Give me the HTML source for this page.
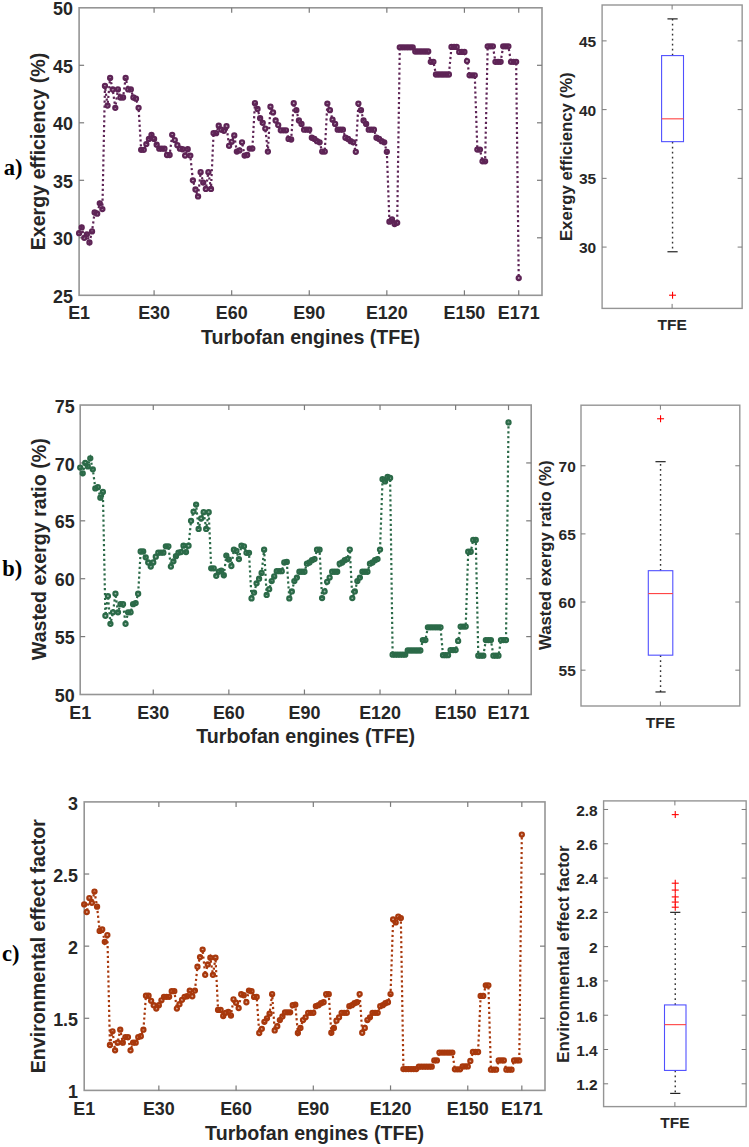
<!DOCTYPE html>
<html><head><meta charset="utf-8"><style>
html,body{margin:0;padding:0;background:#fff;}
body{width:749px;height:1147px;overflow:hidden;}
svg{display:block;}
</style></head><body>
<svg width="749" height="1147" viewBox="0 0 749 1147">
<rect width="749" height="1147" fill="#fff"/>
<rect x="79.10" y="7.80" width="462.90" height="287.50" fill="none" stroke="#959595" stroke-width="1.6"/>
<text x="79.10" y="319.20" font-family='"Liberation Sans", sans-serif' font-size="17.9" font-weight="bold" text-anchor="middle" fill="#262626" >E1</text>
<line x1="154.09" y1="295.30" x2="154.09" y2="290.30" stroke="#7a7a7a" stroke-width="1.2" />
<line x1="154.09" y1="7.80" x2="154.09" y2="12.80" stroke="#7a7a7a" stroke-width="1.2" />
<text x="154.09" y="319.20" font-family='"Liberation Sans", sans-serif' font-size="17.9" font-weight="bold" text-anchor="middle" fill="#262626" >E30</text>
<line x1="231.68" y1="295.30" x2="231.68" y2="290.30" stroke="#7a7a7a" stroke-width="1.2" />
<line x1="231.68" y1="7.80" x2="231.68" y2="12.80" stroke="#7a7a7a" stroke-width="1.2" />
<text x="231.68" y="319.20" font-family='"Liberation Sans", sans-serif' font-size="17.9" font-weight="bold" text-anchor="middle" fill="#262626" >E60</text>
<line x1="309.26" y1="295.30" x2="309.26" y2="290.30" stroke="#7a7a7a" stroke-width="1.2" />
<line x1="309.26" y1="7.80" x2="309.26" y2="12.80" stroke="#7a7a7a" stroke-width="1.2" />
<text x="309.26" y="319.20" font-family='"Liberation Sans", sans-serif' font-size="17.9" font-weight="bold" text-anchor="middle" fill="#262626" >E90</text>
<line x1="386.84" y1="295.30" x2="386.84" y2="290.30" stroke="#7a7a7a" stroke-width="1.2" />
<line x1="386.84" y1="7.80" x2="386.84" y2="12.80" stroke="#7a7a7a" stroke-width="1.2" />
<text x="386.84" y="319.20" font-family='"Liberation Sans", sans-serif' font-size="17.9" font-weight="bold" text-anchor="middle" fill="#262626" >E120</text>
<line x1="464.42" y1="295.30" x2="464.42" y2="290.30" stroke="#7a7a7a" stroke-width="1.2" />
<line x1="464.42" y1="7.80" x2="464.42" y2="12.80" stroke="#7a7a7a" stroke-width="1.2" />
<text x="464.42" y="319.20" font-family='"Liberation Sans", sans-serif' font-size="17.9" font-weight="bold" text-anchor="middle" fill="#262626" >E150</text>
<line x1="518.73" y1="295.30" x2="518.73" y2="290.30" stroke="#7a7a7a" stroke-width="1.2" />
<line x1="518.73" y1="7.80" x2="518.73" y2="12.80" stroke="#7a7a7a" stroke-width="1.2" />
<text x="518.73" y="319.20" font-family='"Liberation Sans", sans-serif' font-size="17.9" font-weight="bold" text-anchor="middle" fill="#262626" >E171</text>
<text x="72.90" y="302.70" font-family='"Liberation Sans", sans-serif' font-size="17.9" font-weight="bold" text-anchor="end" fill="#262626" >25</text>
<line x1="79.10" y1="237.80" x2="84.10" y2="237.80" stroke="#7a7a7a" stroke-width="1.2" />
<line x1="542.00" y1="237.80" x2="537.00" y2="237.80" stroke="#7a7a7a" stroke-width="1.2" />
<text x="72.90" y="245.20" font-family='"Liberation Sans", sans-serif' font-size="17.9" font-weight="bold" text-anchor="end" fill="#262626" >30</text>
<line x1="79.10" y1="180.30" x2="84.10" y2="180.30" stroke="#7a7a7a" stroke-width="1.2" />
<line x1="542.00" y1="180.30" x2="537.00" y2="180.30" stroke="#7a7a7a" stroke-width="1.2" />
<text x="72.90" y="187.70" font-family='"Liberation Sans", sans-serif' font-size="17.9" font-weight="bold" text-anchor="end" fill="#262626" >35</text>
<line x1="79.10" y1="122.80" x2="84.10" y2="122.80" stroke="#7a7a7a" stroke-width="1.2" />
<line x1="542.00" y1="122.80" x2="537.00" y2="122.80" stroke="#7a7a7a" stroke-width="1.2" />
<text x="72.90" y="130.20" font-family='"Liberation Sans", sans-serif' font-size="17.9" font-weight="bold" text-anchor="end" fill="#262626" >40</text>
<line x1="79.10" y1="65.30" x2="84.10" y2="65.30" stroke="#7a7a7a" stroke-width="1.2" />
<line x1="542.00" y1="65.30" x2="537.00" y2="65.30" stroke="#7a7a7a" stroke-width="1.2" />
<text x="72.90" y="72.70" font-family='"Liberation Sans", sans-serif' font-size="17.9" font-weight="bold" text-anchor="end" fill="#262626" >45</text>
<text x="72.90" y="15.20" font-family='"Liberation Sans", sans-serif' font-size="17.9" font-weight="bold" text-anchor="end" fill="#262626" >50</text>
<polyline points="79.10,233.20 81.69,227.45 84.27,237.80 86.86,234.35 89.44,242.40 92.03,231.47 94.62,212.50 97.20,213.65 99.79,203.30 102.37,209.05 104.96,86.00 107.55,105.55 110.13,77.95 112.72,89.45 115.30,107.85 117.89,89.45 120.48,97.50 123.06,97.50 125.65,77.95 128.23,89.45 130.82,89.45 133.41,97.50 135.99,98.65 138.58,107.85 141.16,149.83 143.75,149.83 146.34,144.08 148.92,138.90 151.51,134.87 154.09,138.90 156.68,144.65 159.27,148.68 161.85,148.68 164.44,148.68 167.03,155.00 169.61,155.00 172.20,134.87 174.78,140.05 177.37,145.23 179.96,148.68 182.54,149.25 185.13,155.58 187.71,149.25 190.30,155.58 192.89,180.30 195.47,189.50 198.06,196.40 200.64,172.25 203.23,182.60 205.82,188.93 208.40,172.25 210.99,188.93 213.57,133.15 216.16,133.15 218.75,125.68 221.33,129.70 223.92,130.85 226.50,126.25 229.09,145.80 231.68,141.78 234.26,135.45 236.85,151.55 239.43,150.40 242.02,142.35 244.61,155.58 247.19,155.00 249.78,148.56 252.36,148.56 254.95,103.25 257.54,109.00 260.12,118.20 262.71,122.80 265.29,128.55 267.88,151.55 270.47,106.70 273.05,112.45 275.64,120.50 278.22,125.10 280.81,130.28 283.40,130.28 285.98,130.28 288.57,138.90 291.15,139.48 293.74,103.25 296.33,110.15 298.91,120.50 301.50,123.95 304.08,129.70 306.67,129.70 309.26,129.70 311.84,137.75 314.43,138.90 317.02,141.20 319.60,142.35 322.19,151.55 324.77,151.55 327.36,103.59 329.95,110.15 332.53,119.69 335.12,123.95 337.70,129.70 340.29,129.70 342.88,129.70 345.46,137.75 348.05,138.90 350.63,141.20 353.22,142.35 355.81,151.78 358.39,103.59 360.98,110.15 363.56,120.50 366.15,123.95 368.74,129.70 371.32,129.70 373.91,129.70 376.49,137.75 379.08,138.90 381.67,141.20 384.25,142.35 386.84,151.78 389.42,221.70 392.01,219.40 394.60,224.00 397.18,222.85 399.77,47.36 402.35,47.36 404.94,47.36 407.53,47.36 410.11,47.36 412.70,47.36 415.28,51.50 417.87,51.50 420.46,51.50 423.04,51.50 425.63,51.50 428.21,51.50 430.80,61.85 433.39,61.85 435.97,74.50 438.56,74.50 441.14,74.50 443.73,74.50 446.32,74.50 448.90,74.50 451.49,46.90 454.07,46.90 456.66,46.90 459.25,51.96 461.83,51.96 464.42,51.96 467.01,61.05 469.59,75.30 472.18,75.30 474.76,75.30 477.35,149.59 479.94,149.59 482.52,161.33 485.11,161.33 487.69,46.33 490.28,46.33 492.87,46.33 495.45,61.85 498.04,61.85 500.62,61.85 503.21,46.33 505.80,46.33 508.38,46.33 510.97,61.85 513.55,61.85 516.14,61.85 518.73,278.05" fill="none" stroke="#5e2456" stroke-width="2.2" stroke-dasharray="2.2 2.7"/>
<circle cx="79.10" cy="233.20" r="2.05" fill="#5e2456" fill-opacity="0.45" stroke="#5e2456" stroke-width="2.2"/>
<circle cx="81.69" cy="227.45" r="2.05" fill="#5e2456" fill-opacity="0.45" stroke="#5e2456" stroke-width="2.2"/>
<circle cx="84.27" cy="237.80" r="2.05" fill="#5e2456" fill-opacity="0.45" stroke="#5e2456" stroke-width="2.2"/>
<circle cx="86.86" cy="234.35" r="2.05" fill="#5e2456" fill-opacity="0.45" stroke="#5e2456" stroke-width="2.2"/>
<circle cx="89.44" cy="242.40" r="2.05" fill="#5e2456" fill-opacity="0.45" stroke="#5e2456" stroke-width="2.2"/>
<circle cx="92.03" cy="231.47" r="2.05" fill="#5e2456" fill-opacity="0.45" stroke="#5e2456" stroke-width="2.2"/>
<circle cx="94.62" cy="212.50" r="2.05" fill="#5e2456" fill-opacity="0.45" stroke="#5e2456" stroke-width="2.2"/>
<circle cx="97.20" cy="213.65" r="2.05" fill="#5e2456" fill-opacity="0.45" stroke="#5e2456" stroke-width="2.2"/>
<circle cx="99.79" cy="203.30" r="2.05" fill="#5e2456" fill-opacity="0.45" stroke="#5e2456" stroke-width="2.2"/>
<circle cx="102.37" cy="209.05" r="2.05" fill="#5e2456" fill-opacity="0.45" stroke="#5e2456" stroke-width="2.2"/>
<circle cx="104.96" cy="86.00" r="2.05" fill="#5e2456" fill-opacity="0.45" stroke="#5e2456" stroke-width="2.2"/>
<circle cx="107.55" cy="105.55" r="2.05" fill="#5e2456" fill-opacity="0.45" stroke="#5e2456" stroke-width="2.2"/>
<circle cx="110.13" cy="77.95" r="2.05" fill="#5e2456" fill-opacity="0.45" stroke="#5e2456" stroke-width="2.2"/>
<circle cx="112.72" cy="89.45" r="2.05" fill="#5e2456" fill-opacity="0.45" stroke="#5e2456" stroke-width="2.2"/>
<circle cx="115.30" cy="107.85" r="2.05" fill="#5e2456" fill-opacity="0.45" stroke="#5e2456" stroke-width="2.2"/>
<circle cx="117.89" cy="89.45" r="2.05" fill="#5e2456" fill-opacity="0.45" stroke="#5e2456" stroke-width="2.2"/>
<circle cx="120.48" cy="97.50" r="2.05" fill="#5e2456" fill-opacity="0.45" stroke="#5e2456" stroke-width="2.2"/>
<circle cx="123.06" cy="97.50" r="2.05" fill="#5e2456" fill-opacity="0.45" stroke="#5e2456" stroke-width="2.2"/>
<circle cx="125.65" cy="77.95" r="2.05" fill="#5e2456" fill-opacity="0.45" stroke="#5e2456" stroke-width="2.2"/>
<circle cx="128.23" cy="89.45" r="2.05" fill="#5e2456" fill-opacity="0.45" stroke="#5e2456" stroke-width="2.2"/>
<circle cx="130.82" cy="89.45" r="2.05" fill="#5e2456" fill-opacity="0.45" stroke="#5e2456" stroke-width="2.2"/>
<circle cx="133.41" cy="97.50" r="2.05" fill="#5e2456" fill-opacity="0.45" stroke="#5e2456" stroke-width="2.2"/>
<circle cx="135.99" cy="98.65" r="2.05" fill="#5e2456" fill-opacity="0.45" stroke="#5e2456" stroke-width="2.2"/>
<circle cx="138.58" cy="107.85" r="2.05" fill="#5e2456" fill-opacity="0.45" stroke="#5e2456" stroke-width="2.2"/>
<circle cx="141.16" cy="149.83" r="2.05" fill="#5e2456" fill-opacity="0.45" stroke="#5e2456" stroke-width="2.2"/>
<circle cx="143.75" cy="149.83" r="2.05" fill="#5e2456" fill-opacity="0.45" stroke="#5e2456" stroke-width="2.2"/>
<circle cx="146.34" cy="144.08" r="2.05" fill="#5e2456" fill-opacity="0.45" stroke="#5e2456" stroke-width="2.2"/>
<circle cx="148.92" cy="138.90" r="2.05" fill="#5e2456" fill-opacity="0.45" stroke="#5e2456" stroke-width="2.2"/>
<circle cx="151.51" cy="134.87" r="2.05" fill="#5e2456" fill-opacity="0.45" stroke="#5e2456" stroke-width="2.2"/>
<circle cx="154.09" cy="138.90" r="2.05" fill="#5e2456" fill-opacity="0.45" stroke="#5e2456" stroke-width="2.2"/>
<circle cx="156.68" cy="144.65" r="2.05" fill="#5e2456" fill-opacity="0.45" stroke="#5e2456" stroke-width="2.2"/>
<circle cx="159.27" cy="148.68" r="2.05" fill="#5e2456" fill-opacity="0.45" stroke="#5e2456" stroke-width="2.2"/>
<circle cx="161.85" cy="148.68" r="2.05" fill="#5e2456" fill-opacity="0.45" stroke="#5e2456" stroke-width="2.2"/>
<circle cx="164.44" cy="148.68" r="2.05" fill="#5e2456" fill-opacity="0.45" stroke="#5e2456" stroke-width="2.2"/>
<circle cx="167.03" cy="155.00" r="2.05" fill="#5e2456" fill-opacity="0.45" stroke="#5e2456" stroke-width="2.2"/>
<circle cx="169.61" cy="155.00" r="2.05" fill="#5e2456" fill-opacity="0.45" stroke="#5e2456" stroke-width="2.2"/>
<circle cx="172.20" cy="134.87" r="2.05" fill="#5e2456" fill-opacity="0.45" stroke="#5e2456" stroke-width="2.2"/>
<circle cx="174.78" cy="140.05" r="2.05" fill="#5e2456" fill-opacity="0.45" stroke="#5e2456" stroke-width="2.2"/>
<circle cx="177.37" cy="145.23" r="2.05" fill="#5e2456" fill-opacity="0.45" stroke="#5e2456" stroke-width="2.2"/>
<circle cx="179.96" cy="148.68" r="2.05" fill="#5e2456" fill-opacity="0.45" stroke="#5e2456" stroke-width="2.2"/>
<circle cx="182.54" cy="149.25" r="2.05" fill="#5e2456" fill-opacity="0.45" stroke="#5e2456" stroke-width="2.2"/>
<circle cx="185.13" cy="155.58" r="2.05" fill="#5e2456" fill-opacity="0.45" stroke="#5e2456" stroke-width="2.2"/>
<circle cx="187.71" cy="149.25" r="2.05" fill="#5e2456" fill-opacity="0.45" stroke="#5e2456" stroke-width="2.2"/>
<circle cx="190.30" cy="155.58" r="2.05" fill="#5e2456" fill-opacity="0.45" stroke="#5e2456" stroke-width="2.2"/>
<circle cx="192.89" cy="180.30" r="2.05" fill="#5e2456" fill-opacity="0.45" stroke="#5e2456" stroke-width="2.2"/>
<circle cx="195.47" cy="189.50" r="2.05" fill="#5e2456" fill-opacity="0.45" stroke="#5e2456" stroke-width="2.2"/>
<circle cx="198.06" cy="196.40" r="2.05" fill="#5e2456" fill-opacity="0.45" stroke="#5e2456" stroke-width="2.2"/>
<circle cx="200.64" cy="172.25" r="2.05" fill="#5e2456" fill-opacity="0.45" stroke="#5e2456" stroke-width="2.2"/>
<circle cx="203.23" cy="182.60" r="2.05" fill="#5e2456" fill-opacity="0.45" stroke="#5e2456" stroke-width="2.2"/>
<circle cx="205.82" cy="188.93" r="2.05" fill="#5e2456" fill-opacity="0.45" stroke="#5e2456" stroke-width="2.2"/>
<circle cx="208.40" cy="172.25" r="2.05" fill="#5e2456" fill-opacity="0.45" stroke="#5e2456" stroke-width="2.2"/>
<circle cx="210.99" cy="188.93" r="2.05" fill="#5e2456" fill-opacity="0.45" stroke="#5e2456" stroke-width="2.2"/>
<circle cx="213.57" cy="133.15" r="2.05" fill="#5e2456" fill-opacity="0.45" stroke="#5e2456" stroke-width="2.2"/>
<circle cx="216.16" cy="133.15" r="2.05" fill="#5e2456" fill-opacity="0.45" stroke="#5e2456" stroke-width="2.2"/>
<circle cx="218.75" cy="125.68" r="2.05" fill="#5e2456" fill-opacity="0.45" stroke="#5e2456" stroke-width="2.2"/>
<circle cx="221.33" cy="129.70" r="2.05" fill="#5e2456" fill-opacity="0.45" stroke="#5e2456" stroke-width="2.2"/>
<circle cx="223.92" cy="130.85" r="2.05" fill="#5e2456" fill-opacity="0.45" stroke="#5e2456" stroke-width="2.2"/>
<circle cx="226.50" cy="126.25" r="2.05" fill="#5e2456" fill-opacity="0.45" stroke="#5e2456" stroke-width="2.2"/>
<circle cx="229.09" cy="145.80" r="2.05" fill="#5e2456" fill-opacity="0.45" stroke="#5e2456" stroke-width="2.2"/>
<circle cx="231.68" cy="141.78" r="2.05" fill="#5e2456" fill-opacity="0.45" stroke="#5e2456" stroke-width="2.2"/>
<circle cx="234.26" cy="135.45" r="2.05" fill="#5e2456" fill-opacity="0.45" stroke="#5e2456" stroke-width="2.2"/>
<circle cx="236.85" cy="151.55" r="2.05" fill="#5e2456" fill-opacity="0.45" stroke="#5e2456" stroke-width="2.2"/>
<circle cx="239.43" cy="150.40" r="2.05" fill="#5e2456" fill-opacity="0.45" stroke="#5e2456" stroke-width="2.2"/>
<circle cx="242.02" cy="142.35" r="2.05" fill="#5e2456" fill-opacity="0.45" stroke="#5e2456" stroke-width="2.2"/>
<circle cx="244.61" cy="155.58" r="2.05" fill="#5e2456" fill-opacity="0.45" stroke="#5e2456" stroke-width="2.2"/>
<circle cx="247.19" cy="155.00" r="2.05" fill="#5e2456" fill-opacity="0.45" stroke="#5e2456" stroke-width="2.2"/>
<circle cx="249.78" cy="148.56" r="2.05" fill="#5e2456" fill-opacity="0.45" stroke="#5e2456" stroke-width="2.2"/>
<circle cx="252.36" cy="148.56" r="2.05" fill="#5e2456" fill-opacity="0.45" stroke="#5e2456" stroke-width="2.2"/>
<circle cx="254.95" cy="103.25" r="2.05" fill="#5e2456" fill-opacity="0.45" stroke="#5e2456" stroke-width="2.2"/>
<circle cx="257.54" cy="109.00" r="2.05" fill="#5e2456" fill-opacity="0.45" stroke="#5e2456" stroke-width="2.2"/>
<circle cx="260.12" cy="118.20" r="2.05" fill="#5e2456" fill-opacity="0.45" stroke="#5e2456" stroke-width="2.2"/>
<circle cx="262.71" cy="122.80" r="2.05" fill="#5e2456" fill-opacity="0.45" stroke="#5e2456" stroke-width="2.2"/>
<circle cx="265.29" cy="128.55" r="2.05" fill="#5e2456" fill-opacity="0.45" stroke="#5e2456" stroke-width="2.2"/>
<circle cx="267.88" cy="151.55" r="2.05" fill="#5e2456" fill-opacity="0.45" stroke="#5e2456" stroke-width="2.2"/>
<circle cx="270.47" cy="106.70" r="2.05" fill="#5e2456" fill-opacity="0.45" stroke="#5e2456" stroke-width="2.2"/>
<circle cx="273.05" cy="112.45" r="2.05" fill="#5e2456" fill-opacity="0.45" stroke="#5e2456" stroke-width="2.2"/>
<circle cx="275.64" cy="120.50" r="2.05" fill="#5e2456" fill-opacity="0.45" stroke="#5e2456" stroke-width="2.2"/>
<circle cx="278.22" cy="125.10" r="2.05" fill="#5e2456" fill-opacity="0.45" stroke="#5e2456" stroke-width="2.2"/>
<circle cx="280.81" cy="130.28" r="2.05" fill="#5e2456" fill-opacity="0.45" stroke="#5e2456" stroke-width="2.2"/>
<circle cx="283.40" cy="130.28" r="2.05" fill="#5e2456" fill-opacity="0.45" stroke="#5e2456" stroke-width="2.2"/>
<circle cx="285.98" cy="130.28" r="2.05" fill="#5e2456" fill-opacity="0.45" stroke="#5e2456" stroke-width="2.2"/>
<circle cx="288.57" cy="138.90" r="2.05" fill="#5e2456" fill-opacity="0.45" stroke="#5e2456" stroke-width="2.2"/>
<circle cx="291.15" cy="139.48" r="2.05" fill="#5e2456" fill-opacity="0.45" stroke="#5e2456" stroke-width="2.2"/>
<circle cx="293.74" cy="103.25" r="2.05" fill="#5e2456" fill-opacity="0.45" stroke="#5e2456" stroke-width="2.2"/>
<circle cx="296.33" cy="110.15" r="2.05" fill="#5e2456" fill-opacity="0.45" stroke="#5e2456" stroke-width="2.2"/>
<circle cx="298.91" cy="120.50" r="2.05" fill="#5e2456" fill-opacity="0.45" stroke="#5e2456" stroke-width="2.2"/>
<circle cx="301.50" cy="123.95" r="2.05" fill="#5e2456" fill-opacity="0.45" stroke="#5e2456" stroke-width="2.2"/>
<circle cx="304.08" cy="129.70" r="2.05" fill="#5e2456" fill-opacity="0.45" stroke="#5e2456" stroke-width="2.2"/>
<circle cx="306.67" cy="129.70" r="2.05" fill="#5e2456" fill-opacity="0.45" stroke="#5e2456" stroke-width="2.2"/>
<circle cx="309.26" cy="129.70" r="2.05" fill="#5e2456" fill-opacity="0.45" stroke="#5e2456" stroke-width="2.2"/>
<circle cx="311.84" cy="137.75" r="2.05" fill="#5e2456" fill-opacity="0.45" stroke="#5e2456" stroke-width="2.2"/>
<circle cx="314.43" cy="138.90" r="2.05" fill="#5e2456" fill-opacity="0.45" stroke="#5e2456" stroke-width="2.2"/>
<circle cx="317.02" cy="141.20" r="2.05" fill="#5e2456" fill-opacity="0.45" stroke="#5e2456" stroke-width="2.2"/>
<circle cx="319.60" cy="142.35" r="2.05" fill="#5e2456" fill-opacity="0.45" stroke="#5e2456" stroke-width="2.2"/>
<circle cx="322.19" cy="151.55" r="2.05" fill="#5e2456" fill-opacity="0.45" stroke="#5e2456" stroke-width="2.2"/>
<circle cx="324.77" cy="151.55" r="2.05" fill="#5e2456" fill-opacity="0.45" stroke="#5e2456" stroke-width="2.2"/>
<circle cx="327.36" cy="103.59" r="2.05" fill="#5e2456" fill-opacity="0.45" stroke="#5e2456" stroke-width="2.2"/>
<circle cx="329.95" cy="110.15" r="2.05" fill="#5e2456" fill-opacity="0.45" stroke="#5e2456" stroke-width="2.2"/>
<circle cx="332.53" cy="119.69" r="2.05" fill="#5e2456" fill-opacity="0.45" stroke="#5e2456" stroke-width="2.2"/>
<circle cx="335.12" cy="123.95" r="2.05" fill="#5e2456" fill-opacity="0.45" stroke="#5e2456" stroke-width="2.2"/>
<circle cx="337.70" cy="129.70" r="2.05" fill="#5e2456" fill-opacity="0.45" stroke="#5e2456" stroke-width="2.2"/>
<circle cx="340.29" cy="129.70" r="2.05" fill="#5e2456" fill-opacity="0.45" stroke="#5e2456" stroke-width="2.2"/>
<circle cx="342.88" cy="129.70" r="2.05" fill="#5e2456" fill-opacity="0.45" stroke="#5e2456" stroke-width="2.2"/>
<circle cx="345.46" cy="137.75" r="2.05" fill="#5e2456" fill-opacity="0.45" stroke="#5e2456" stroke-width="2.2"/>
<circle cx="348.05" cy="138.90" r="2.05" fill="#5e2456" fill-opacity="0.45" stroke="#5e2456" stroke-width="2.2"/>
<circle cx="350.63" cy="141.20" r="2.05" fill="#5e2456" fill-opacity="0.45" stroke="#5e2456" stroke-width="2.2"/>
<circle cx="353.22" cy="142.35" r="2.05" fill="#5e2456" fill-opacity="0.45" stroke="#5e2456" stroke-width="2.2"/>
<circle cx="355.81" cy="151.78" r="2.05" fill="#5e2456" fill-opacity="0.45" stroke="#5e2456" stroke-width="2.2"/>
<circle cx="358.39" cy="103.59" r="2.05" fill="#5e2456" fill-opacity="0.45" stroke="#5e2456" stroke-width="2.2"/>
<circle cx="360.98" cy="110.15" r="2.05" fill="#5e2456" fill-opacity="0.45" stroke="#5e2456" stroke-width="2.2"/>
<circle cx="363.56" cy="120.50" r="2.05" fill="#5e2456" fill-opacity="0.45" stroke="#5e2456" stroke-width="2.2"/>
<circle cx="366.15" cy="123.95" r="2.05" fill="#5e2456" fill-opacity="0.45" stroke="#5e2456" stroke-width="2.2"/>
<circle cx="368.74" cy="129.70" r="2.05" fill="#5e2456" fill-opacity="0.45" stroke="#5e2456" stroke-width="2.2"/>
<circle cx="371.32" cy="129.70" r="2.05" fill="#5e2456" fill-opacity="0.45" stroke="#5e2456" stroke-width="2.2"/>
<circle cx="373.91" cy="129.70" r="2.05" fill="#5e2456" fill-opacity="0.45" stroke="#5e2456" stroke-width="2.2"/>
<circle cx="376.49" cy="137.75" r="2.05" fill="#5e2456" fill-opacity="0.45" stroke="#5e2456" stroke-width="2.2"/>
<circle cx="379.08" cy="138.90" r="2.05" fill="#5e2456" fill-opacity="0.45" stroke="#5e2456" stroke-width="2.2"/>
<circle cx="381.67" cy="141.20" r="2.05" fill="#5e2456" fill-opacity="0.45" stroke="#5e2456" stroke-width="2.2"/>
<circle cx="384.25" cy="142.35" r="2.05" fill="#5e2456" fill-opacity="0.45" stroke="#5e2456" stroke-width="2.2"/>
<circle cx="386.84" cy="151.78" r="2.05" fill="#5e2456" fill-opacity="0.45" stroke="#5e2456" stroke-width="2.2"/>
<circle cx="389.42" cy="221.70" r="2.05" fill="#5e2456" fill-opacity="0.45" stroke="#5e2456" stroke-width="2.2"/>
<circle cx="392.01" cy="219.40" r="2.05" fill="#5e2456" fill-opacity="0.45" stroke="#5e2456" stroke-width="2.2"/>
<circle cx="394.60" cy="224.00" r="2.05" fill="#5e2456" fill-opacity="0.45" stroke="#5e2456" stroke-width="2.2"/>
<circle cx="397.18" cy="222.85" r="2.05" fill="#5e2456" fill-opacity="0.45" stroke="#5e2456" stroke-width="2.2"/>
<circle cx="399.77" cy="47.36" r="2.05" fill="#5e2456" fill-opacity="0.45" stroke="#5e2456" stroke-width="2.2"/>
<circle cx="402.35" cy="47.36" r="2.05" fill="#5e2456" fill-opacity="0.45" stroke="#5e2456" stroke-width="2.2"/>
<circle cx="404.94" cy="47.36" r="2.05" fill="#5e2456" fill-opacity="0.45" stroke="#5e2456" stroke-width="2.2"/>
<circle cx="407.53" cy="47.36" r="2.05" fill="#5e2456" fill-opacity="0.45" stroke="#5e2456" stroke-width="2.2"/>
<circle cx="410.11" cy="47.36" r="2.05" fill="#5e2456" fill-opacity="0.45" stroke="#5e2456" stroke-width="2.2"/>
<circle cx="412.70" cy="47.36" r="2.05" fill="#5e2456" fill-opacity="0.45" stroke="#5e2456" stroke-width="2.2"/>
<circle cx="415.28" cy="51.50" r="2.05" fill="#5e2456" fill-opacity="0.45" stroke="#5e2456" stroke-width="2.2"/>
<circle cx="417.87" cy="51.50" r="2.05" fill="#5e2456" fill-opacity="0.45" stroke="#5e2456" stroke-width="2.2"/>
<circle cx="420.46" cy="51.50" r="2.05" fill="#5e2456" fill-opacity="0.45" stroke="#5e2456" stroke-width="2.2"/>
<circle cx="423.04" cy="51.50" r="2.05" fill="#5e2456" fill-opacity="0.45" stroke="#5e2456" stroke-width="2.2"/>
<circle cx="425.63" cy="51.50" r="2.05" fill="#5e2456" fill-opacity="0.45" stroke="#5e2456" stroke-width="2.2"/>
<circle cx="428.21" cy="51.50" r="2.05" fill="#5e2456" fill-opacity="0.45" stroke="#5e2456" stroke-width="2.2"/>
<circle cx="430.80" cy="61.85" r="2.05" fill="#5e2456" fill-opacity="0.45" stroke="#5e2456" stroke-width="2.2"/>
<circle cx="433.39" cy="61.85" r="2.05" fill="#5e2456" fill-opacity="0.45" stroke="#5e2456" stroke-width="2.2"/>
<circle cx="435.97" cy="74.50" r="2.05" fill="#5e2456" fill-opacity="0.45" stroke="#5e2456" stroke-width="2.2"/>
<circle cx="438.56" cy="74.50" r="2.05" fill="#5e2456" fill-opacity="0.45" stroke="#5e2456" stroke-width="2.2"/>
<circle cx="441.14" cy="74.50" r="2.05" fill="#5e2456" fill-opacity="0.45" stroke="#5e2456" stroke-width="2.2"/>
<circle cx="443.73" cy="74.50" r="2.05" fill="#5e2456" fill-opacity="0.45" stroke="#5e2456" stroke-width="2.2"/>
<circle cx="446.32" cy="74.50" r="2.05" fill="#5e2456" fill-opacity="0.45" stroke="#5e2456" stroke-width="2.2"/>
<circle cx="448.90" cy="74.50" r="2.05" fill="#5e2456" fill-opacity="0.45" stroke="#5e2456" stroke-width="2.2"/>
<circle cx="451.49" cy="46.90" r="2.05" fill="#5e2456" fill-opacity="0.45" stroke="#5e2456" stroke-width="2.2"/>
<circle cx="454.07" cy="46.90" r="2.05" fill="#5e2456" fill-opacity="0.45" stroke="#5e2456" stroke-width="2.2"/>
<circle cx="456.66" cy="46.90" r="2.05" fill="#5e2456" fill-opacity="0.45" stroke="#5e2456" stroke-width="2.2"/>
<circle cx="459.25" cy="51.96" r="2.05" fill="#5e2456" fill-opacity="0.45" stroke="#5e2456" stroke-width="2.2"/>
<circle cx="461.83" cy="51.96" r="2.05" fill="#5e2456" fill-opacity="0.45" stroke="#5e2456" stroke-width="2.2"/>
<circle cx="464.42" cy="51.96" r="2.05" fill="#5e2456" fill-opacity="0.45" stroke="#5e2456" stroke-width="2.2"/>
<circle cx="467.01" cy="61.05" r="2.05" fill="#5e2456" fill-opacity="0.45" stroke="#5e2456" stroke-width="2.2"/>
<circle cx="469.59" cy="75.30" r="2.05" fill="#5e2456" fill-opacity="0.45" stroke="#5e2456" stroke-width="2.2"/>
<circle cx="472.18" cy="75.30" r="2.05" fill="#5e2456" fill-opacity="0.45" stroke="#5e2456" stroke-width="2.2"/>
<circle cx="474.76" cy="75.30" r="2.05" fill="#5e2456" fill-opacity="0.45" stroke="#5e2456" stroke-width="2.2"/>
<circle cx="477.35" cy="149.59" r="2.05" fill="#5e2456" fill-opacity="0.45" stroke="#5e2456" stroke-width="2.2"/>
<circle cx="479.94" cy="149.59" r="2.05" fill="#5e2456" fill-opacity="0.45" stroke="#5e2456" stroke-width="2.2"/>
<circle cx="482.52" cy="161.33" r="2.05" fill="#5e2456" fill-opacity="0.45" stroke="#5e2456" stroke-width="2.2"/>
<circle cx="485.11" cy="161.33" r="2.05" fill="#5e2456" fill-opacity="0.45" stroke="#5e2456" stroke-width="2.2"/>
<circle cx="487.69" cy="46.33" r="2.05" fill="#5e2456" fill-opacity="0.45" stroke="#5e2456" stroke-width="2.2"/>
<circle cx="490.28" cy="46.33" r="2.05" fill="#5e2456" fill-opacity="0.45" stroke="#5e2456" stroke-width="2.2"/>
<circle cx="492.87" cy="46.33" r="2.05" fill="#5e2456" fill-opacity="0.45" stroke="#5e2456" stroke-width="2.2"/>
<circle cx="495.45" cy="61.85" r="2.05" fill="#5e2456" fill-opacity="0.45" stroke="#5e2456" stroke-width="2.2"/>
<circle cx="498.04" cy="61.85" r="2.05" fill="#5e2456" fill-opacity="0.45" stroke="#5e2456" stroke-width="2.2"/>
<circle cx="500.62" cy="61.85" r="2.05" fill="#5e2456" fill-opacity="0.45" stroke="#5e2456" stroke-width="2.2"/>
<circle cx="503.21" cy="46.33" r="2.05" fill="#5e2456" fill-opacity="0.45" stroke="#5e2456" stroke-width="2.2"/>
<circle cx="505.80" cy="46.33" r="2.05" fill="#5e2456" fill-opacity="0.45" stroke="#5e2456" stroke-width="2.2"/>
<circle cx="508.38" cy="46.33" r="2.05" fill="#5e2456" fill-opacity="0.45" stroke="#5e2456" stroke-width="2.2"/>
<circle cx="510.97" cy="61.85" r="2.05" fill="#5e2456" fill-opacity="0.45" stroke="#5e2456" stroke-width="2.2"/>
<circle cx="513.55" cy="61.85" r="2.05" fill="#5e2456" fill-opacity="0.45" stroke="#5e2456" stroke-width="2.2"/>
<circle cx="516.14" cy="61.85" r="2.05" fill="#5e2456" fill-opacity="0.45" stroke="#5e2456" stroke-width="2.2"/>
<circle cx="518.73" cy="278.05" r="2.05" fill="#5e2456" fill-opacity="0.45" stroke="#5e2456" stroke-width="2.2"/>
<text x="310.55" y="343.80" font-family='"Liberation Sans", sans-serif' font-size="19.65" font-weight="bold" text-anchor="middle" fill="#262626" >Turbofan engines (TFE)</text>
<text x="44.60" y="151.55" font-family='"Liberation Sans", sans-serif' font-size="19.65" font-weight="bold" text-anchor="middle" fill="#262626" transform="rotate(-90 44.60 151.55)" >Exergy efficiency (%)</text>
<text x="3.80" y="174.70" font-family='"Liberation Serif", serif' font-size="22.5" font-weight="bold" text-anchor="start" fill="#000" >a)</text>
<rect x="80.20" y="405.05" width="451.00" height="289.45" fill="none" stroke="#959595" stroke-width="1.6"/>
<text x="80.20" y="718.50" font-family='"Liberation Sans", sans-serif' font-size="17.9" font-weight="bold" text-anchor="middle" fill="#262626" >E1</text>
<line x1="153.27" y1="694.50" x2="153.27" y2="689.50" stroke="#7a7a7a" stroke-width="1.2" />
<line x1="153.27" y1="405.05" x2="153.27" y2="410.05" stroke="#7a7a7a" stroke-width="1.2" />
<text x="153.27" y="718.50" font-family='"Liberation Sans", sans-serif' font-size="17.9" font-weight="bold" text-anchor="middle" fill="#262626" >E30</text>
<line x1="228.85" y1="694.50" x2="228.85" y2="689.50" stroke="#7a7a7a" stroke-width="1.2" />
<line x1="228.85" y1="405.05" x2="228.85" y2="410.05" stroke="#7a7a7a" stroke-width="1.2" />
<text x="228.85" y="718.50" font-family='"Liberation Sans", sans-serif' font-size="17.9" font-weight="bold" text-anchor="middle" fill="#262626" >E60</text>
<line x1="304.44" y1="694.50" x2="304.44" y2="689.50" stroke="#7a7a7a" stroke-width="1.2" />
<line x1="304.44" y1="405.05" x2="304.44" y2="410.05" stroke="#7a7a7a" stroke-width="1.2" />
<text x="304.44" y="718.50" font-family='"Liberation Sans", sans-serif' font-size="17.9" font-weight="bold" text-anchor="middle" fill="#262626" >E90</text>
<line x1="380.03" y1="694.50" x2="380.03" y2="689.50" stroke="#7a7a7a" stroke-width="1.2" />
<line x1="380.03" y1="405.05" x2="380.03" y2="410.05" stroke="#7a7a7a" stroke-width="1.2" />
<text x="380.03" y="718.50" font-family='"Liberation Sans", sans-serif' font-size="17.9" font-weight="bold" text-anchor="middle" fill="#262626" >E120</text>
<line x1="455.61" y1="694.50" x2="455.61" y2="689.50" stroke="#7a7a7a" stroke-width="1.2" />
<line x1="455.61" y1="405.05" x2="455.61" y2="410.05" stroke="#7a7a7a" stroke-width="1.2" />
<text x="455.61" y="718.50" font-family='"Liberation Sans", sans-serif' font-size="17.9" font-weight="bold" text-anchor="middle" fill="#262626" >E150</text>
<line x1="508.52" y1="694.50" x2="508.52" y2="689.50" stroke="#7a7a7a" stroke-width="1.2" />
<line x1="508.52" y1="405.05" x2="508.52" y2="410.05" stroke="#7a7a7a" stroke-width="1.2" />
<text x="508.52" y="718.50" font-family='"Liberation Sans", sans-serif' font-size="17.9" font-weight="bold" text-anchor="middle" fill="#262626" >E171</text>
<text x="74.60" y="702.10" font-family='"Liberation Sans", sans-serif' font-size="17.9" font-weight="bold" text-anchor="end" fill="#262626" >50</text>
<line x1="80.20" y1="636.61" x2="85.20" y2="636.61" stroke="#7a7a7a" stroke-width="1.2" />
<line x1="531.20" y1="636.61" x2="526.20" y2="636.61" stroke="#7a7a7a" stroke-width="1.2" />
<text x="74.60" y="644.21" font-family='"Liberation Sans", sans-serif' font-size="17.9" font-weight="bold" text-anchor="end" fill="#262626" >55</text>
<line x1="80.20" y1="578.72" x2="85.20" y2="578.72" stroke="#7a7a7a" stroke-width="1.2" />
<line x1="531.20" y1="578.72" x2="526.20" y2="578.72" stroke="#7a7a7a" stroke-width="1.2" />
<text x="74.60" y="586.32" font-family='"Liberation Sans", sans-serif' font-size="17.9" font-weight="bold" text-anchor="end" fill="#262626" >60</text>
<line x1="80.20" y1="520.83" x2="85.20" y2="520.83" stroke="#7a7a7a" stroke-width="1.2" />
<line x1="531.20" y1="520.83" x2="526.20" y2="520.83" stroke="#7a7a7a" stroke-width="1.2" />
<text x="74.60" y="528.43" font-family='"Liberation Sans", sans-serif' font-size="17.9" font-weight="bold" text-anchor="end" fill="#262626" >65</text>
<line x1="80.20" y1="462.94" x2="85.20" y2="462.94" stroke="#7a7a7a" stroke-width="1.2" />
<line x1="531.20" y1="462.94" x2="526.20" y2="462.94" stroke="#7a7a7a" stroke-width="1.2" />
<text x="74.60" y="470.54" font-family='"Liberation Sans", sans-serif' font-size="17.9" font-weight="bold" text-anchor="end" fill="#262626" >70</text>
<text x="74.60" y="412.65" font-family='"Liberation Sans", sans-serif' font-size="17.9" font-weight="bold" text-anchor="end" fill="#262626" >75</text>
<polyline points="80.20,467.57 82.72,473.36 85.24,462.94 87.76,466.41 90.28,458.31 92.80,469.31 95.32,488.41 97.84,487.25 100.36,497.67 102.88,491.88 105.40,615.77 107.92,596.09 110.43,623.87 112.95,612.30 115.47,593.77 117.99,612.30 120.51,604.19 123.03,604.19 125.55,623.87 128.07,612.30 130.59,612.30 133.11,604.19 135.63,603.03 138.15,593.77 140.67,551.51 143.19,551.51 145.71,557.30 148.23,562.51 150.75,566.56 153.27,562.51 155.79,556.72 158.31,552.67 160.83,552.67 163.35,552.67 165.86,546.30 168.38,546.30 170.90,566.56 173.42,561.35 175.94,556.14 178.46,552.67 180.98,552.09 183.50,545.72 186.02,552.09 188.54,545.72 191.06,520.83 193.58,511.57 196.10,504.62 198.62,528.93 201.14,518.51 203.66,512.15 206.18,528.93 208.70,512.15 211.22,568.30 213.74,568.30 216.26,575.83 218.78,571.77 221.29,570.62 223.81,575.25 226.33,555.56 228.85,559.62 231.37,565.98 233.89,549.77 236.41,550.93 238.93,559.04 241.45,545.72 243.97,546.30 246.49,552.79 249.01,552.79 251.53,598.40 254.05,592.61 256.57,583.35 259.09,578.72 261.61,572.93 264.13,549.77 266.65,594.93 269.17,589.14 271.69,581.04 274.21,576.40 276.73,571.19 279.24,571.19 281.76,571.19 284.28,562.51 286.80,561.93 289.32,598.40 291.84,591.46 294.36,581.04 296.88,577.56 299.40,571.77 301.92,571.77 304.44,571.77 306.96,563.67 309.48,562.51 312.00,560.20 314.52,559.04 317.04,549.77 319.56,549.77 322.08,598.06 324.60,591.46 327.12,581.85 329.64,577.56 332.16,571.77 334.67,571.77 337.19,571.77 339.71,563.67 342.23,562.51 344.75,560.20 347.27,559.04 349.79,549.54 352.31,598.06 354.83,591.46 357.35,581.04 359.87,577.56 362.39,571.77 364.91,571.77 367.43,571.77 369.95,563.67 372.47,562.51 374.99,560.20 377.51,559.04 380.03,549.54 382.55,479.15 385.07,481.46 387.59,476.83 390.11,477.99 392.62,654.67 395.14,654.67 397.66,654.67 400.18,654.67 402.70,654.67 405.22,654.67 407.74,650.50 410.26,650.50 412.78,650.50 415.30,650.50 417.82,650.50 420.34,650.50 422.86,640.08 425.38,640.08 427.90,627.35 430.42,627.35 432.94,627.35 435.46,627.35 437.98,627.35 440.50,627.35 443.02,655.13 445.54,655.13 448.05,655.13 450.57,650.04 453.09,650.04 455.61,650.04 458.13,640.89 460.65,626.54 463.17,626.54 465.69,626.54 468.21,551.74 470.73,551.74 473.25,539.93 475.77,539.93 478.29,655.71 480.81,655.71 483.33,655.71 485.85,640.08 488.37,640.08 490.89,640.08 493.41,655.71 495.93,655.71 498.45,655.71 500.97,640.08 503.48,640.08 506.00,640.08 508.52,422.42" fill="none" stroke="#2b6a48" stroke-width="2.2" stroke-dasharray="2.2 2.7"/>
<circle cx="80.20" cy="467.57" r="2.05" fill="#2b6a48" fill-opacity="0.45" stroke="#2b6a48" stroke-width="2.2"/>
<circle cx="82.72" cy="473.36" r="2.05" fill="#2b6a48" fill-opacity="0.45" stroke="#2b6a48" stroke-width="2.2"/>
<circle cx="85.24" cy="462.94" r="2.05" fill="#2b6a48" fill-opacity="0.45" stroke="#2b6a48" stroke-width="2.2"/>
<circle cx="87.76" cy="466.41" r="2.05" fill="#2b6a48" fill-opacity="0.45" stroke="#2b6a48" stroke-width="2.2"/>
<circle cx="90.28" cy="458.31" r="2.05" fill="#2b6a48" fill-opacity="0.45" stroke="#2b6a48" stroke-width="2.2"/>
<circle cx="92.80" cy="469.31" r="2.05" fill="#2b6a48" fill-opacity="0.45" stroke="#2b6a48" stroke-width="2.2"/>
<circle cx="95.32" cy="488.41" r="2.05" fill="#2b6a48" fill-opacity="0.45" stroke="#2b6a48" stroke-width="2.2"/>
<circle cx="97.84" cy="487.25" r="2.05" fill="#2b6a48" fill-opacity="0.45" stroke="#2b6a48" stroke-width="2.2"/>
<circle cx="100.36" cy="497.67" r="2.05" fill="#2b6a48" fill-opacity="0.45" stroke="#2b6a48" stroke-width="2.2"/>
<circle cx="102.88" cy="491.88" r="2.05" fill="#2b6a48" fill-opacity="0.45" stroke="#2b6a48" stroke-width="2.2"/>
<circle cx="105.40" cy="615.77" r="2.05" fill="#2b6a48" fill-opacity="0.45" stroke="#2b6a48" stroke-width="2.2"/>
<circle cx="107.92" cy="596.09" r="2.05" fill="#2b6a48" fill-opacity="0.45" stroke="#2b6a48" stroke-width="2.2"/>
<circle cx="110.43" cy="623.87" r="2.05" fill="#2b6a48" fill-opacity="0.45" stroke="#2b6a48" stroke-width="2.2"/>
<circle cx="112.95" cy="612.30" r="2.05" fill="#2b6a48" fill-opacity="0.45" stroke="#2b6a48" stroke-width="2.2"/>
<circle cx="115.47" cy="593.77" r="2.05" fill="#2b6a48" fill-opacity="0.45" stroke="#2b6a48" stroke-width="2.2"/>
<circle cx="117.99" cy="612.30" r="2.05" fill="#2b6a48" fill-opacity="0.45" stroke="#2b6a48" stroke-width="2.2"/>
<circle cx="120.51" cy="604.19" r="2.05" fill="#2b6a48" fill-opacity="0.45" stroke="#2b6a48" stroke-width="2.2"/>
<circle cx="123.03" cy="604.19" r="2.05" fill="#2b6a48" fill-opacity="0.45" stroke="#2b6a48" stroke-width="2.2"/>
<circle cx="125.55" cy="623.87" r="2.05" fill="#2b6a48" fill-opacity="0.45" stroke="#2b6a48" stroke-width="2.2"/>
<circle cx="128.07" cy="612.30" r="2.05" fill="#2b6a48" fill-opacity="0.45" stroke="#2b6a48" stroke-width="2.2"/>
<circle cx="130.59" cy="612.30" r="2.05" fill="#2b6a48" fill-opacity="0.45" stroke="#2b6a48" stroke-width="2.2"/>
<circle cx="133.11" cy="604.19" r="2.05" fill="#2b6a48" fill-opacity="0.45" stroke="#2b6a48" stroke-width="2.2"/>
<circle cx="135.63" cy="603.03" r="2.05" fill="#2b6a48" fill-opacity="0.45" stroke="#2b6a48" stroke-width="2.2"/>
<circle cx="138.15" cy="593.77" r="2.05" fill="#2b6a48" fill-opacity="0.45" stroke="#2b6a48" stroke-width="2.2"/>
<circle cx="140.67" cy="551.51" r="2.05" fill="#2b6a48" fill-opacity="0.45" stroke="#2b6a48" stroke-width="2.2"/>
<circle cx="143.19" cy="551.51" r="2.05" fill="#2b6a48" fill-opacity="0.45" stroke="#2b6a48" stroke-width="2.2"/>
<circle cx="145.71" cy="557.30" r="2.05" fill="#2b6a48" fill-opacity="0.45" stroke="#2b6a48" stroke-width="2.2"/>
<circle cx="148.23" cy="562.51" r="2.05" fill="#2b6a48" fill-opacity="0.45" stroke="#2b6a48" stroke-width="2.2"/>
<circle cx="150.75" cy="566.56" r="2.05" fill="#2b6a48" fill-opacity="0.45" stroke="#2b6a48" stroke-width="2.2"/>
<circle cx="153.27" cy="562.51" r="2.05" fill="#2b6a48" fill-opacity="0.45" stroke="#2b6a48" stroke-width="2.2"/>
<circle cx="155.79" cy="556.72" r="2.05" fill="#2b6a48" fill-opacity="0.45" stroke="#2b6a48" stroke-width="2.2"/>
<circle cx="158.31" cy="552.67" r="2.05" fill="#2b6a48" fill-opacity="0.45" stroke="#2b6a48" stroke-width="2.2"/>
<circle cx="160.83" cy="552.67" r="2.05" fill="#2b6a48" fill-opacity="0.45" stroke="#2b6a48" stroke-width="2.2"/>
<circle cx="163.35" cy="552.67" r="2.05" fill="#2b6a48" fill-opacity="0.45" stroke="#2b6a48" stroke-width="2.2"/>
<circle cx="165.86" cy="546.30" r="2.05" fill="#2b6a48" fill-opacity="0.45" stroke="#2b6a48" stroke-width="2.2"/>
<circle cx="168.38" cy="546.30" r="2.05" fill="#2b6a48" fill-opacity="0.45" stroke="#2b6a48" stroke-width="2.2"/>
<circle cx="170.90" cy="566.56" r="2.05" fill="#2b6a48" fill-opacity="0.45" stroke="#2b6a48" stroke-width="2.2"/>
<circle cx="173.42" cy="561.35" r="2.05" fill="#2b6a48" fill-opacity="0.45" stroke="#2b6a48" stroke-width="2.2"/>
<circle cx="175.94" cy="556.14" r="2.05" fill="#2b6a48" fill-opacity="0.45" stroke="#2b6a48" stroke-width="2.2"/>
<circle cx="178.46" cy="552.67" r="2.05" fill="#2b6a48" fill-opacity="0.45" stroke="#2b6a48" stroke-width="2.2"/>
<circle cx="180.98" cy="552.09" r="2.05" fill="#2b6a48" fill-opacity="0.45" stroke="#2b6a48" stroke-width="2.2"/>
<circle cx="183.50" cy="545.72" r="2.05" fill="#2b6a48" fill-opacity="0.45" stroke="#2b6a48" stroke-width="2.2"/>
<circle cx="186.02" cy="552.09" r="2.05" fill="#2b6a48" fill-opacity="0.45" stroke="#2b6a48" stroke-width="2.2"/>
<circle cx="188.54" cy="545.72" r="2.05" fill="#2b6a48" fill-opacity="0.45" stroke="#2b6a48" stroke-width="2.2"/>
<circle cx="191.06" cy="520.83" r="2.05" fill="#2b6a48" fill-opacity="0.45" stroke="#2b6a48" stroke-width="2.2"/>
<circle cx="193.58" cy="511.57" r="2.05" fill="#2b6a48" fill-opacity="0.45" stroke="#2b6a48" stroke-width="2.2"/>
<circle cx="196.10" cy="504.62" r="2.05" fill="#2b6a48" fill-opacity="0.45" stroke="#2b6a48" stroke-width="2.2"/>
<circle cx="198.62" cy="528.93" r="2.05" fill="#2b6a48" fill-opacity="0.45" stroke="#2b6a48" stroke-width="2.2"/>
<circle cx="201.14" cy="518.51" r="2.05" fill="#2b6a48" fill-opacity="0.45" stroke="#2b6a48" stroke-width="2.2"/>
<circle cx="203.66" cy="512.15" r="2.05" fill="#2b6a48" fill-opacity="0.45" stroke="#2b6a48" stroke-width="2.2"/>
<circle cx="206.18" cy="528.93" r="2.05" fill="#2b6a48" fill-opacity="0.45" stroke="#2b6a48" stroke-width="2.2"/>
<circle cx="208.70" cy="512.15" r="2.05" fill="#2b6a48" fill-opacity="0.45" stroke="#2b6a48" stroke-width="2.2"/>
<circle cx="211.22" cy="568.30" r="2.05" fill="#2b6a48" fill-opacity="0.45" stroke="#2b6a48" stroke-width="2.2"/>
<circle cx="213.74" cy="568.30" r="2.05" fill="#2b6a48" fill-opacity="0.45" stroke="#2b6a48" stroke-width="2.2"/>
<circle cx="216.26" cy="575.83" r="2.05" fill="#2b6a48" fill-opacity="0.45" stroke="#2b6a48" stroke-width="2.2"/>
<circle cx="218.78" cy="571.77" r="2.05" fill="#2b6a48" fill-opacity="0.45" stroke="#2b6a48" stroke-width="2.2"/>
<circle cx="221.29" cy="570.62" r="2.05" fill="#2b6a48" fill-opacity="0.45" stroke="#2b6a48" stroke-width="2.2"/>
<circle cx="223.81" cy="575.25" r="2.05" fill="#2b6a48" fill-opacity="0.45" stroke="#2b6a48" stroke-width="2.2"/>
<circle cx="226.33" cy="555.56" r="2.05" fill="#2b6a48" fill-opacity="0.45" stroke="#2b6a48" stroke-width="2.2"/>
<circle cx="228.85" cy="559.62" r="2.05" fill="#2b6a48" fill-opacity="0.45" stroke="#2b6a48" stroke-width="2.2"/>
<circle cx="231.37" cy="565.98" r="2.05" fill="#2b6a48" fill-opacity="0.45" stroke="#2b6a48" stroke-width="2.2"/>
<circle cx="233.89" cy="549.77" r="2.05" fill="#2b6a48" fill-opacity="0.45" stroke="#2b6a48" stroke-width="2.2"/>
<circle cx="236.41" cy="550.93" r="2.05" fill="#2b6a48" fill-opacity="0.45" stroke="#2b6a48" stroke-width="2.2"/>
<circle cx="238.93" cy="559.04" r="2.05" fill="#2b6a48" fill-opacity="0.45" stroke="#2b6a48" stroke-width="2.2"/>
<circle cx="241.45" cy="545.72" r="2.05" fill="#2b6a48" fill-opacity="0.45" stroke="#2b6a48" stroke-width="2.2"/>
<circle cx="243.97" cy="546.30" r="2.05" fill="#2b6a48" fill-opacity="0.45" stroke="#2b6a48" stroke-width="2.2"/>
<circle cx="246.49" cy="552.79" r="2.05" fill="#2b6a48" fill-opacity="0.45" stroke="#2b6a48" stroke-width="2.2"/>
<circle cx="249.01" cy="552.79" r="2.05" fill="#2b6a48" fill-opacity="0.45" stroke="#2b6a48" stroke-width="2.2"/>
<circle cx="251.53" cy="598.40" r="2.05" fill="#2b6a48" fill-opacity="0.45" stroke="#2b6a48" stroke-width="2.2"/>
<circle cx="254.05" cy="592.61" r="2.05" fill="#2b6a48" fill-opacity="0.45" stroke="#2b6a48" stroke-width="2.2"/>
<circle cx="256.57" cy="583.35" r="2.05" fill="#2b6a48" fill-opacity="0.45" stroke="#2b6a48" stroke-width="2.2"/>
<circle cx="259.09" cy="578.72" r="2.05" fill="#2b6a48" fill-opacity="0.45" stroke="#2b6a48" stroke-width="2.2"/>
<circle cx="261.61" cy="572.93" r="2.05" fill="#2b6a48" fill-opacity="0.45" stroke="#2b6a48" stroke-width="2.2"/>
<circle cx="264.13" cy="549.77" r="2.05" fill="#2b6a48" fill-opacity="0.45" stroke="#2b6a48" stroke-width="2.2"/>
<circle cx="266.65" cy="594.93" r="2.05" fill="#2b6a48" fill-opacity="0.45" stroke="#2b6a48" stroke-width="2.2"/>
<circle cx="269.17" cy="589.14" r="2.05" fill="#2b6a48" fill-opacity="0.45" stroke="#2b6a48" stroke-width="2.2"/>
<circle cx="271.69" cy="581.04" r="2.05" fill="#2b6a48" fill-opacity="0.45" stroke="#2b6a48" stroke-width="2.2"/>
<circle cx="274.21" cy="576.40" r="2.05" fill="#2b6a48" fill-opacity="0.45" stroke="#2b6a48" stroke-width="2.2"/>
<circle cx="276.73" cy="571.19" r="2.05" fill="#2b6a48" fill-opacity="0.45" stroke="#2b6a48" stroke-width="2.2"/>
<circle cx="279.24" cy="571.19" r="2.05" fill="#2b6a48" fill-opacity="0.45" stroke="#2b6a48" stroke-width="2.2"/>
<circle cx="281.76" cy="571.19" r="2.05" fill="#2b6a48" fill-opacity="0.45" stroke="#2b6a48" stroke-width="2.2"/>
<circle cx="284.28" cy="562.51" r="2.05" fill="#2b6a48" fill-opacity="0.45" stroke="#2b6a48" stroke-width="2.2"/>
<circle cx="286.80" cy="561.93" r="2.05" fill="#2b6a48" fill-opacity="0.45" stroke="#2b6a48" stroke-width="2.2"/>
<circle cx="289.32" cy="598.40" r="2.05" fill="#2b6a48" fill-opacity="0.45" stroke="#2b6a48" stroke-width="2.2"/>
<circle cx="291.84" cy="591.46" r="2.05" fill="#2b6a48" fill-opacity="0.45" stroke="#2b6a48" stroke-width="2.2"/>
<circle cx="294.36" cy="581.04" r="2.05" fill="#2b6a48" fill-opacity="0.45" stroke="#2b6a48" stroke-width="2.2"/>
<circle cx="296.88" cy="577.56" r="2.05" fill="#2b6a48" fill-opacity="0.45" stroke="#2b6a48" stroke-width="2.2"/>
<circle cx="299.40" cy="571.77" r="2.05" fill="#2b6a48" fill-opacity="0.45" stroke="#2b6a48" stroke-width="2.2"/>
<circle cx="301.92" cy="571.77" r="2.05" fill="#2b6a48" fill-opacity="0.45" stroke="#2b6a48" stroke-width="2.2"/>
<circle cx="304.44" cy="571.77" r="2.05" fill="#2b6a48" fill-opacity="0.45" stroke="#2b6a48" stroke-width="2.2"/>
<circle cx="306.96" cy="563.67" r="2.05" fill="#2b6a48" fill-opacity="0.45" stroke="#2b6a48" stroke-width="2.2"/>
<circle cx="309.48" cy="562.51" r="2.05" fill="#2b6a48" fill-opacity="0.45" stroke="#2b6a48" stroke-width="2.2"/>
<circle cx="312.00" cy="560.20" r="2.05" fill="#2b6a48" fill-opacity="0.45" stroke="#2b6a48" stroke-width="2.2"/>
<circle cx="314.52" cy="559.04" r="2.05" fill="#2b6a48" fill-opacity="0.45" stroke="#2b6a48" stroke-width="2.2"/>
<circle cx="317.04" cy="549.77" r="2.05" fill="#2b6a48" fill-opacity="0.45" stroke="#2b6a48" stroke-width="2.2"/>
<circle cx="319.56" cy="549.77" r="2.05" fill="#2b6a48" fill-opacity="0.45" stroke="#2b6a48" stroke-width="2.2"/>
<circle cx="322.08" cy="598.06" r="2.05" fill="#2b6a48" fill-opacity="0.45" stroke="#2b6a48" stroke-width="2.2"/>
<circle cx="324.60" cy="591.46" r="2.05" fill="#2b6a48" fill-opacity="0.45" stroke="#2b6a48" stroke-width="2.2"/>
<circle cx="327.12" cy="581.85" r="2.05" fill="#2b6a48" fill-opacity="0.45" stroke="#2b6a48" stroke-width="2.2"/>
<circle cx="329.64" cy="577.56" r="2.05" fill="#2b6a48" fill-opacity="0.45" stroke="#2b6a48" stroke-width="2.2"/>
<circle cx="332.16" cy="571.77" r="2.05" fill="#2b6a48" fill-opacity="0.45" stroke="#2b6a48" stroke-width="2.2"/>
<circle cx="334.67" cy="571.77" r="2.05" fill="#2b6a48" fill-opacity="0.45" stroke="#2b6a48" stroke-width="2.2"/>
<circle cx="337.19" cy="571.77" r="2.05" fill="#2b6a48" fill-opacity="0.45" stroke="#2b6a48" stroke-width="2.2"/>
<circle cx="339.71" cy="563.67" r="2.05" fill="#2b6a48" fill-opacity="0.45" stroke="#2b6a48" stroke-width="2.2"/>
<circle cx="342.23" cy="562.51" r="2.05" fill="#2b6a48" fill-opacity="0.45" stroke="#2b6a48" stroke-width="2.2"/>
<circle cx="344.75" cy="560.20" r="2.05" fill="#2b6a48" fill-opacity="0.45" stroke="#2b6a48" stroke-width="2.2"/>
<circle cx="347.27" cy="559.04" r="2.05" fill="#2b6a48" fill-opacity="0.45" stroke="#2b6a48" stroke-width="2.2"/>
<circle cx="349.79" cy="549.54" r="2.05" fill="#2b6a48" fill-opacity="0.45" stroke="#2b6a48" stroke-width="2.2"/>
<circle cx="352.31" cy="598.06" r="2.05" fill="#2b6a48" fill-opacity="0.45" stroke="#2b6a48" stroke-width="2.2"/>
<circle cx="354.83" cy="591.46" r="2.05" fill="#2b6a48" fill-opacity="0.45" stroke="#2b6a48" stroke-width="2.2"/>
<circle cx="357.35" cy="581.04" r="2.05" fill="#2b6a48" fill-opacity="0.45" stroke="#2b6a48" stroke-width="2.2"/>
<circle cx="359.87" cy="577.56" r="2.05" fill="#2b6a48" fill-opacity="0.45" stroke="#2b6a48" stroke-width="2.2"/>
<circle cx="362.39" cy="571.77" r="2.05" fill="#2b6a48" fill-opacity="0.45" stroke="#2b6a48" stroke-width="2.2"/>
<circle cx="364.91" cy="571.77" r="2.05" fill="#2b6a48" fill-opacity="0.45" stroke="#2b6a48" stroke-width="2.2"/>
<circle cx="367.43" cy="571.77" r="2.05" fill="#2b6a48" fill-opacity="0.45" stroke="#2b6a48" stroke-width="2.2"/>
<circle cx="369.95" cy="563.67" r="2.05" fill="#2b6a48" fill-opacity="0.45" stroke="#2b6a48" stroke-width="2.2"/>
<circle cx="372.47" cy="562.51" r="2.05" fill="#2b6a48" fill-opacity="0.45" stroke="#2b6a48" stroke-width="2.2"/>
<circle cx="374.99" cy="560.20" r="2.05" fill="#2b6a48" fill-opacity="0.45" stroke="#2b6a48" stroke-width="2.2"/>
<circle cx="377.51" cy="559.04" r="2.05" fill="#2b6a48" fill-opacity="0.45" stroke="#2b6a48" stroke-width="2.2"/>
<circle cx="380.03" cy="549.54" r="2.05" fill="#2b6a48" fill-opacity="0.45" stroke="#2b6a48" stroke-width="2.2"/>
<circle cx="382.55" cy="479.15" r="2.05" fill="#2b6a48" fill-opacity="0.45" stroke="#2b6a48" stroke-width="2.2"/>
<circle cx="385.07" cy="481.46" r="2.05" fill="#2b6a48" fill-opacity="0.45" stroke="#2b6a48" stroke-width="2.2"/>
<circle cx="387.59" cy="476.83" r="2.05" fill="#2b6a48" fill-opacity="0.45" stroke="#2b6a48" stroke-width="2.2"/>
<circle cx="390.11" cy="477.99" r="2.05" fill="#2b6a48" fill-opacity="0.45" stroke="#2b6a48" stroke-width="2.2"/>
<circle cx="392.62" cy="654.67" r="2.05" fill="#2b6a48" fill-opacity="0.45" stroke="#2b6a48" stroke-width="2.2"/>
<circle cx="395.14" cy="654.67" r="2.05" fill="#2b6a48" fill-opacity="0.45" stroke="#2b6a48" stroke-width="2.2"/>
<circle cx="397.66" cy="654.67" r="2.05" fill="#2b6a48" fill-opacity="0.45" stroke="#2b6a48" stroke-width="2.2"/>
<circle cx="400.18" cy="654.67" r="2.05" fill="#2b6a48" fill-opacity="0.45" stroke="#2b6a48" stroke-width="2.2"/>
<circle cx="402.70" cy="654.67" r="2.05" fill="#2b6a48" fill-opacity="0.45" stroke="#2b6a48" stroke-width="2.2"/>
<circle cx="405.22" cy="654.67" r="2.05" fill="#2b6a48" fill-opacity="0.45" stroke="#2b6a48" stroke-width="2.2"/>
<circle cx="407.74" cy="650.50" r="2.05" fill="#2b6a48" fill-opacity="0.45" stroke="#2b6a48" stroke-width="2.2"/>
<circle cx="410.26" cy="650.50" r="2.05" fill="#2b6a48" fill-opacity="0.45" stroke="#2b6a48" stroke-width="2.2"/>
<circle cx="412.78" cy="650.50" r="2.05" fill="#2b6a48" fill-opacity="0.45" stroke="#2b6a48" stroke-width="2.2"/>
<circle cx="415.30" cy="650.50" r="2.05" fill="#2b6a48" fill-opacity="0.45" stroke="#2b6a48" stroke-width="2.2"/>
<circle cx="417.82" cy="650.50" r="2.05" fill="#2b6a48" fill-opacity="0.45" stroke="#2b6a48" stroke-width="2.2"/>
<circle cx="420.34" cy="650.50" r="2.05" fill="#2b6a48" fill-opacity="0.45" stroke="#2b6a48" stroke-width="2.2"/>
<circle cx="422.86" cy="640.08" r="2.05" fill="#2b6a48" fill-opacity="0.45" stroke="#2b6a48" stroke-width="2.2"/>
<circle cx="425.38" cy="640.08" r="2.05" fill="#2b6a48" fill-opacity="0.45" stroke="#2b6a48" stroke-width="2.2"/>
<circle cx="427.90" cy="627.35" r="2.05" fill="#2b6a48" fill-opacity="0.45" stroke="#2b6a48" stroke-width="2.2"/>
<circle cx="430.42" cy="627.35" r="2.05" fill="#2b6a48" fill-opacity="0.45" stroke="#2b6a48" stroke-width="2.2"/>
<circle cx="432.94" cy="627.35" r="2.05" fill="#2b6a48" fill-opacity="0.45" stroke="#2b6a48" stroke-width="2.2"/>
<circle cx="435.46" cy="627.35" r="2.05" fill="#2b6a48" fill-opacity="0.45" stroke="#2b6a48" stroke-width="2.2"/>
<circle cx="437.98" cy="627.35" r="2.05" fill="#2b6a48" fill-opacity="0.45" stroke="#2b6a48" stroke-width="2.2"/>
<circle cx="440.50" cy="627.35" r="2.05" fill="#2b6a48" fill-opacity="0.45" stroke="#2b6a48" stroke-width="2.2"/>
<circle cx="443.02" cy="655.13" r="2.05" fill="#2b6a48" fill-opacity="0.45" stroke="#2b6a48" stroke-width="2.2"/>
<circle cx="445.54" cy="655.13" r="2.05" fill="#2b6a48" fill-opacity="0.45" stroke="#2b6a48" stroke-width="2.2"/>
<circle cx="448.05" cy="655.13" r="2.05" fill="#2b6a48" fill-opacity="0.45" stroke="#2b6a48" stroke-width="2.2"/>
<circle cx="450.57" cy="650.04" r="2.05" fill="#2b6a48" fill-opacity="0.45" stroke="#2b6a48" stroke-width="2.2"/>
<circle cx="453.09" cy="650.04" r="2.05" fill="#2b6a48" fill-opacity="0.45" stroke="#2b6a48" stroke-width="2.2"/>
<circle cx="455.61" cy="650.04" r="2.05" fill="#2b6a48" fill-opacity="0.45" stroke="#2b6a48" stroke-width="2.2"/>
<circle cx="458.13" cy="640.89" r="2.05" fill="#2b6a48" fill-opacity="0.45" stroke="#2b6a48" stroke-width="2.2"/>
<circle cx="460.65" cy="626.54" r="2.05" fill="#2b6a48" fill-opacity="0.45" stroke="#2b6a48" stroke-width="2.2"/>
<circle cx="463.17" cy="626.54" r="2.05" fill="#2b6a48" fill-opacity="0.45" stroke="#2b6a48" stroke-width="2.2"/>
<circle cx="465.69" cy="626.54" r="2.05" fill="#2b6a48" fill-opacity="0.45" stroke="#2b6a48" stroke-width="2.2"/>
<circle cx="468.21" cy="551.74" r="2.05" fill="#2b6a48" fill-opacity="0.45" stroke="#2b6a48" stroke-width="2.2"/>
<circle cx="470.73" cy="551.74" r="2.05" fill="#2b6a48" fill-opacity="0.45" stroke="#2b6a48" stroke-width="2.2"/>
<circle cx="473.25" cy="539.93" r="2.05" fill="#2b6a48" fill-opacity="0.45" stroke="#2b6a48" stroke-width="2.2"/>
<circle cx="475.77" cy="539.93" r="2.05" fill="#2b6a48" fill-opacity="0.45" stroke="#2b6a48" stroke-width="2.2"/>
<circle cx="478.29" cy="655.71" r="2.05" fill="#2b6a48" fill-opacity="0.45" stroke="#2b6a48" stroke-width="2.2"/>
<circle cx="480.81" cy="655.71" r="2.05" fill="#2b6a48" fill-opacity="0.45" stroke="#2b6a48" stroke-width="2.2"/>
<circle cx="483.33" cy="655.71" r="2.05" fill="#2b6a48" fill-opacity="0.45" stroke="#2b6a48" stroke-width="2.2"/>
<circle cx="485.85" cy="640.08" r="2.05" fill="#2b6a48" fill-opacity="0.45" stroke="#2b6a48" stroke-width="2.2"/>
<circle cx="488.37" cy="640.08" r="2.05" fill="#2b6a48" fill-opacity="0.45" stroke="#2b6a48" stroke-width="2.2"/>
<circle cx="490.89" cy="640.08" r="2.05" fill="#2b6a48" fill-opacity="0.45" stroke="#2b6a48" stroke-width="2.2"/>
<circle cx="493.41" cy="655.71" r="2.05" fill="#2b6a48" fill-opacity="0.45" stroke="#2b6a48" stroke-width="2.2"/>
<circle cx="495.93" cy="655.71" r="2.05" fill="#2b6a48" fill-opacity="0.45" stroke="#2b6a48" stroke-width="2.2"/>
<circle cx="498.45" cy="655.71" r="2.05" fill="#2b6a48" fill-opacity="0.45" stroke="#2b6a48" stroke-width="2.2"/>
<circle cx="500.97" cy="640.08" r="2.05" fill="#2b6a48" fill-opacity="0.45" stroke="#2b6a48" stroke-width="2.2"/>
<circle cx="503.48" cy="640.08" r="2.05" fill="#2b6a48" fill-opacity="0.45" stroke="#2b6a48" stroke-width="2.2"/>
<circle cx="506.00" cy="640.08" r="2.05" fill="#2b6a48" fill-opacity="0.45" stroke="#2b6a48" stroke-width="2.2"/>
<circle cx="508.52" cy="422.42" r="2.05" fill="#2b6a48" fill-opacity="0.45" stroke="#2b6a48" stroke-width="2.2"/>
<text x="305.70" y="743.40" font-family='"Liberation Sans", sans-serif' font-size="19.65" font-weight="bold" text-anchor="middle" fill="#262626" >Turbofan engines (TFE)</text>
<text x="45.70" y="549.17" font-family='"Liberation Sans", sans-serif' font-size="19.65" font-weight="bold" text-anchor="middle" fill="#262626" transform="rotate(-90 45.70 549.17)" >Wasted exergy ratio (%)</text>
<text x="2.20" y="576.10" font-family='"Liberation Serif", serif' font-size="22.5" font-weight="bold" text-anchor="start" fill="#000" >b)</text>
<rect x="84.20" y="801.90" width="460.80" height="288.50" fill="none" stroke="#959595" stroke-width="1.6"/>
<text x="84.20" y="1114.50" font-family='"Liberation Sans", sans-serif' font-size="17.9" font-weight="bold" text-anchor="middle" fill="#262626" >E1</text>
<line x1="158.85" y1="1090.40" x2="158.85" y2="1085.40" stroke="#7a7a7a" stroke-width="1.2" />
<line x1="158.85" y1="801.90" x2="158.85" y2="806.90" stroke="#7a7a7a" stroke-width="1.2" />
<text x="158.85" y="1114.50" font-family='"Liberation Sans", sans-serif' font-size="17.9" font-weight="bold" text-anchor="middle" fill="#262626" >E30</text>
<line x1="236.08" y1="1090.40" x2="236.08" y2="1085.40" stroke="#7a7a7a" stroke-width="1.2" />
<line x1="236.08" y1="801.90" x2="236.08" y2="806.90" stroke="#7a7a7a" stroke-width="1.2" />
<text x="236.08" y="1114.50" font-family='"Liberation Sans", sans-serif' font-size="17.9" font-weight="bold" text-anchor="middle" fill="#262626" >E60</text>
<line x1="313.31" y1="1090.40" x2="313.31" y2="1085.40" stroke="#7a7a7a" stroke-width="1.2" />
<line x1="313.31" y1="801.90" x2="313.31" y2="806.90" stroke="#7a7a7a" stroke-width="1.2" />
<text x="313.31" y="1114.50" font-family='"Liberation Sans", sans-serif' font-size="17.9" font-weight="bold" text-anchor="middle" fill="#262626" >E90</text>
<line x1="390.54" y1="1090.40" x2="390.54" y2="1085.40" stroke="#7a7a7a" stroke-width="1.2" />
<line x1="390.54" y1="801.90" x2="390.54" y2="806.90" stroke="#7a7a7a" stroke-width="1.2" />
<text x="390.54" y="1114.50" font-family='"Liberation Sans", sans-serif' font-size="17.9" font-weight="bold" text-anchor="middle" fill="#262626" >E120</text>
<line x1="467.77" y1="1090.40" x2="467.77" y2="1085.40" stroke="#7a7a7a" stroke-width="1.2" />
<line x1="467.77" y1="801.90" x2="467.77" y2="806.90" stroke="#7a7a7a" stroke-width="1.2" />
<text x="467.77" y="1114.50" font-family='"Liberation Sans", sans-serif' font-size="17.9" font-weight="bold" text-anchor="middle" fill="#262626" >E150</text>
<line x1="521.83" y1="1090.40" x2="521.83" y2="1085.40" stroke="#7a7a7a" stroke-width="1.2" />
<line x1="521.83" y1="801.90" x2="521.83" y2="806.90" stroke="#7a7a7a" stroke-width="1.2" />
<text x="521.83" y="1114.50" font-family='"Liberation Sans", sans-serif' font-size="17.9" font-weight="bold" text-anchor="middle" fill="#262626" >E171</text>
<text x="78.00" y="1098.00" font-family='"Liberation Sans", sans-serif' font-size="17.9" font-weight="bold" text-anchor="end" fill="#262626" >1</text>
<line x1="84.20" y1="1018.28" x2="89.20" y2="1018.28" stroke="#7a7a7a" stroke-width="1.2" />
<line x1="545.00" y1="1018.28" x2="540.00" y2="1018.28" stroke="#7a7a7a" stroke-width="1.2" />
<text x="78.00" y="1025.88" font-family='"Liberation Sans", sans-serif' font-size="17.9" font-weight="bold" text-anchor="end" fill="#262626" >1.5</text>
<line x1="84.20" y1="946.15" x2="89.20" y2="946.15" stroke="#7a7a7a" stroke-width="1.2" />
<line x1="545.00" y1="946.15" x2="540.00" y2="946.15" stroke="#7a7a7a" stroke-width="1.2" />
<text x="78.00" y="953.75" font-family='"Liberation Sans", sans-serif' font-size="17.9" font-weight="bold" text-anchor="end" fill="#262626" >2</text>
<line x1="84.20" y1="874.02" x2="89.20" y2="874.02" stroke="#7a7a7a" stroke-width="1.2" />
<line x1="545.00" y1="874.02" x2="540.00" y2="874.02" stroke="#7a7a7a" stroke-width="1.2" />
<text x="78.00" y="881.62" font-family='"Liberation Sans", sans-serif' font-size="17.9" font-weight="bold" text-anchor="end" fill="#262626" >2.5</text>
<text x="78.00" y="809.50" font-family='"Liberation Sans", sans-serif' font-size="17.9" font-weight="bold" text-anchor="end" fill="#262626" >3</text>
<polyline points="84.20,904.39 86.77,912.07 89.35,898.07 91.92,902.83 94.50,891.57 97.07,906.72 99.65,930.92 102.22,929.52 104.79,941.78 107.37,935.05 109.94,1044.99 112.52,1031.31 115.09,1050.31 117.67,1042.65 120.24,1029.63 122.81,1042.65 125.39,1037.08 127.96,1037.08 130.54,1050.31 133.11,1042.65 135.69,1042.65 138.26,1037.08 140.83,1036.26 143.41,1029.63 145.98,995.77 148.56,995.77 151.13,1000.79 153.71,1005.20 156.28,1008.55 158.85,1005.20 161.43,1000.29 164.00,996.78 166.58,996.78 169.15,996.78 171.73,991.13 174.30,991.13 176.87,1008.55 179.45,1004.22 182.02,999.79 184.60,996.78 187.17,996.27 189.75,990.61 192.32,996.27 194.89,990.61 197.47,966.76 200.04,957.12 202.62,949.58 205.19,974.84 207.77,964.39 210.34,957.73 212.92,974.84 215.49,957.73 218.06,1009.97 220.64,1009.97 223.21,1016.01 225.79,1012.78 228.36,1011.85 230.94,1015.55 233.51,999.29 236.08,1002.76 238.66,1008.08 241.23,994.23 243.81,995.26 246.38,1002.27 248.96,990.61 251.53,991.13 254.10,996.88 256.68,996.88 259.25,1032.98 261.83,1028.78 264.40,1021.85 266.98,1018.28 269.55,1013.71 272.12,994.23 274.70,1030.47 277.27,1026.21 279.85,1020.07 282.42,1016.46 285.00,1012.32 287.57,1012.32 290.14,1012.32 292.72,1005.20 295.29,1004.71 297.87,1032.98 300.44,1027.93 303.02,1020.07 305.59,1017.37 308.16,1012.78 310.74,1012.78 313.31,1012.78 315.89,1006.16 318.46,1005.20 321.04,1003.25 323.61,1002.27 326.18,994.23 328.76,994.23 331.33,1032.73 333.91,1027.93 336.48,1020.69 339.06,1017.37 341.63,1012.78 344.20,1012.78 346.78,1012.78 349.35,1006.16 351.93,1005.20 354.50,1003.25 357.08,1002.27 359.65,994.03 362.22,1032.73 364.80,1027.93 367.37,1020.07 369.95,1017.37 372.52,1012.78 375.10,1012.78 377.67,1012.78 380.24,1006.16 382.82,1005.20 385.39,1003.25 387.97,1002.27 390.54,994.03 393.12,919.51 395.69,922.41 398.26,916.56 400.84,918.04 403.41,1069.08 405.99,1069.08 408.56,1069.08 411.14,1069.08 413.71,1069.08 416.28,1069.08 418.86,1066.67 421.43,1066.67 424.01,1066.67 426.58,1066.67 429.16,1066.67 431.73,1066.67 434.31,1060.47 436.88,1060.47 439.45,1052.54 442.03,1052.54 444.60,1052.54 447.18,1052.54 449.75,1052.54 452.33,1052.54 454.90,1069.35 457.47,1069.35 460.05,1069.35 462.62,1066.40 465.20,1066.40 467.77,1066.40 470.35,1060.96 472.92,1052.02 475.49,1052.02 478.07,1052.02 480.64,995.97 483.22,995.97 485.79,985.31 488.37,985.31 490.94,1069.68 493.51,1069.68 496.09,1069.68 498.66,1060.47 501.24,1060.47 503.81,1060.47 506.39,1069.68 508.96,1069.68 511.53,1069.68 514.11,1060.47 516.68,1060.47 519.26,1060.47 521.83,834.56" fill="none" stroke="#a8380c" stroke-width="2.2" stroke-dasharray="2.2 2.7"/>
<circle cx="84.20" cy="904.39" r="2.05" fill="#a8380c" fill-opacity="0.45" stroke="#a8380c" stroke-width="2.2"/>
<circle cx="86.77" cy="912.07" r="2.05" fill="#a8380c" fill-opacity="0.45" stroke="#a8380c" stroke-width="2.2"/>
<circle cx="89.35" cy="898.07" r="2.05" fill="#a8380c" fill-opacity="0.45" stroke="#a8380c" stroke-width="2.2"/>
<circle cx="91.92" cy="902.83" r="2.05" fill="#a8380c" fill-opacity="0.45" stroke="#a8380c" stroke-width="2.2"/>
<circle cx="94.50" cy="891.57" r="2.05" fill="#a8380c" fill-opacity="0.45" stroke="#a8380c" stroke-width="2.2"/>
<circle cx="97.07" cy="906.72" r="2.05" fill="#a8380c" fill-opacity="0.45" stroke="#a8380c" stroke-width="2.2"/>
<circle cx="99.65" cy="930.92" r="2.05" fill="#a8380c" fill-opacity="0.45" stroke="#a8380c" stroke-width="2.2"/>
<circle cx="102.22" cy="929.52" r="2.05" fill="#a8380c" fill-opacity="0.45" stroke="#a8380c" stroke-width="2.2"/>
<circle cx="104.79" cy="941.78" r="2.05" fill="#a8380c" fill-opacity="0.45" stroke="#a8380c" stroke-width="2.2"/>
<circle cx="107.37" cy="935.05" r="2.05" fill="#a8380c" fill-opacity="0.45" stroke="#a8380c" stroke-width="2.2"/>
<circle cx="109.94" cy="1044.99" r="2.05" fill="#a8380c" fill-opacity="0.45" stroke="#a8380c" stroke-width="2.2"/>
<circle cx="112.52" cy="1031.31" r="2.05" fill="#a8380c" fill-opacity="0.45" stroke="#a8380c" stroke-width="2.2"/>
<circle cx="115.09" cy="1050.31" r="2.05" fill="#a8380c" fill-opacity="0.45" stroke="#a8380c" stroke-width="2.2"/>
<circle cx="117.67" cy="1042.65" r="2.05" fill="#a8380c" fill-opacity="0.45" stroke="#a8380c" stroke-width="2.2"/>
<circle cx="120.24" cy="1029.63" r="2.05" fill="#a8380c" fill-opacity="0.45" stroke="#a8380c" stroke-width="2.2"/>
<circle cx="122.81" cy="1042.65" r="2.05" fill="#a8380c" fill-opacity="0.45" stroke="#a8380c" stroke-width="2.2"/>
<circle cx="125.39" cy="1037.08" r="2.05" fill="#a8380c" fill-opacity="0.45" stroke="#a8380c" stroke-width="2.2"/>
<circle cx="127.96" cy="1037.08" r="2.05" fill="#a8380c" fill-opacity="0.45" stroke="#a8380c" stroke-width="2.2"/>
<circle cx="130.54" cy="1050.31" r="2.05" fill="#a8380c" fill-opacity="0.45" stroke="#a8380c" stroke-width="2.2"/>
<circle cx="133.11" cy="1042.65" r="2.05" fill="#a8380c" fill-opacity="0.45" stroke="#a8380c" stroke-width="2.2"/>
<circle cx="135.69" cy="1042.65" r="2.05" fill="#a8380c" fill-opacity="0.45" stroke="#a8380c" stroke-width="2.2"/>
<circle cx="138.26" cy="1037.08" r="2.05" fill="#a8380c" fill-opacity="0.45" stroke="#a8380c" stroke-width="2.2"/>
<circle cx="140.83" cy="1036.26" r="2.05" fill="#a8380c" fill-opacity="0.45" stroke="#a8380c" stroke-width="2.2"/>
<circle cx="143.41" cy="1029.63" r="2.05" fill="#a8380c" fill-opacity="0.45" stroke="#a8380c" stroke-width="2.2"/>
<circle cx="145.98" cy="995.77" r="2.05" fill="#a8380c" fill-opacity="0.45" stroke="#a8380c" stroke-width="2.2"/>
<circle cx="148.56" cy="995.77" r="2.05" fill="#a8380c" fill-opacity="0.45" stroke="#a8380c" stroke-width="2.2"/>
<circle cx="151.13" cy="1000.79" r="2.05" fill="#a8380c" fill-opacity="0.45" stroke="#a8380c" stroke-width="2.2"/>
<circle cx="153.71" cy="1005.20" r="2.05" fill="#a8380c" fill-opacity="0.45" stroke="#a8380c" stroke-width="2.2"/>
<circle cx="156.28" cy="1008.55" r="2.05" fill="#a8380c" fill-opacity="0.45" stroke="#a8380c" stroke-width="2.2"/>
<circle cx="158.85" cy="1005.20" r="2.05" fill="#a8380c" fill-opacity="0.45" stroke="#a8380c" stroke-width="2.2"/>
<circle cx="161.43" cy="1000.29" r="2.05" fill="#a8380c" fill-opacity="0.45" stroke="#a8380c" stroke-width="2.2"/>
<circle cx="164.00" cy="996.78" r="2.05" fill="#a8380c" fill-opacity="0.45" stroke="#a8380c" stroke-width="2.2"/>
<circle cx="166.58" cy="996.78" r="2.05" fill="#a8380c" fill-opacity="0.45" stroke="#a8380c" stroke-width="2.2"/>
<circle cx="169.15" cy="996.78" r="2.05" fill="#a8380c" fill-opacity="0.45" stroke="#a8380c" stroke-width="2.2"/>
<circle cx="171.73" cy="991.13" r="2.05" fill="#a8380c" fill-opacity="0.45" stroke="#a8380c" stroke-width="2.2"/>
<circle cx="174.30" cy="991.13" r="2.05" fill="#a8380c" fill-opacity="0.45" stroke="#a8380c" stroke-width="2.2"/>
<circle cx="176.87" cy="1008.55" r="2.05" fill="#a8380c" fill-opacity="0.45" stroke="#a8380c" stroke-width="2.2"/>
<circle cx="179.45" cy="1004.22" r="2.05" fill="#a8380c" fill-opacity="0.45" stroke="#a8380c" stroke-width="2.2"/>
<circle cx="182.02" cy="999.79" r="2.05" fill="#a8380c" fill-opacity="0.45" stroke="#a8380c" stroke-width="2.2"/>
<circle cx="184.60" cy="996.78" r="2.05" fill="#a8380c" fill-opacity="0.45" stroke="#a8380c" stroke-width="2.2"/>
<circle cx="187.17" cy="996.27" r="2.05" fill="#a8380c" fill-opacity="0.45" stroke="#a8380c" stroke-width="2.2"/>
<circle cx="189.75" cy="990.61" r="2.05" fill="#a8380c" fill-opacity="0.45" stroke="#a8380c" stroke-width="2.2"/>
<circle cx="192.32" cy="996.27" r="2.05" fill="#a8380c" fill-opacity="0.45" stroke="#a8380c" stroke-width="2.2"/>
<circle cx="194.89" cy="990.61" r="2.05" fill="#a8380c" fill-opacity="0.45" stroke="#a8380c" stroke-width="2.2"/>
<circle cx="197.47" cy="966.76" r="2.05" fill="#a8380c" fill-opacity="0.45" stroke="#a8380c" stroke-width="2.2"/>
<circle cx="200.04" cy="957.12" r="2.05" fill="#a8380c" fill-opacity="0.45" stroke="#a8380c" stroke-width="2.2"/>
<circle cx="202.62" cy="949.58" r="2.05" fill="#a8380c" fill-opacity="0.45" stroke="#a8380c" stroke-width="2.2"/>
<circle cx="205.19" cy="974.84" r="2.05" fill="#a8380c" fill-opacity="0.45" stroke="#a8380c" stroke-width="2.2"/>
<circle cx="207.77" cy="964.39" r="2.05" fill="#a8380c" fill-opacity="0.45" stroke="#a8380c" stroke-width="2.2"/>
<circle cx="210.34" cy="957.73" r="2.05" fill="#a8380c" fill-opacity="0.45" stroke="#a8380c" stroke-width="2.2"/>
<circle cx="212.92" cy="974.84" r="2.05" fill="#a8380c" fill-opacity="0.45" stroke="#a8380c" stroke-width="2.2"/>
<circle cx="215.49" cy="957.73" r="2.05" fill="#a8380c" fill-opacity="0.45" stroke="#a8380c" stroke-width="2.2"/>
<circle cx="218.06" cy="1009.97" r="2.05" fill="#a8380c" fill-opacity="0.45" stroke="#a8380c" stroke-width="2.2"/>
<circle cx="220.64" cy="1009.97" r="2.05" fill="#a8380c" fill-opacity="0.45" stroke="#a8380c" stroke-width="2.2"/>
<circle cx="223.21" cy="1016.01" r="2.05" fill="#a8380c" fill-opacity="0.45" stroke="#a8380c" stroke-width="2.2"/>
<circle cx="225.79" cy="1012.78" r="2.05" fill="#a8380c" fill-opacity="0.45" stroke="#a8380c" stroke-width="2.2"/>
<circle cx="228.36" cy="1011.85" r="2.05" fill="#a8380c" fill-opacity="0.45" stroke="#a8380c" stroke-width="2.2"/>
<circle cx="230.94" cy="1015.55" r="2.05" fill="#a8380c" fill-opacity="0.45" stroke="#a8380c" stroke-width="2.2"/>
<circle cx="233.51" cy="999.29" r="2.05" fill="#a8380c" fill-opacity="0.45" stroke="#a8380c" stroke-width="2.2"/>
<circle cx="236.08" cy="1002.76" r="2.05" fill="#a8380c" fill-opacity="0.45" stroke="#a8380c" stroke-width="2.2"/>
<circle cx="238.66" cy="1008.08" r="2.05" fill="#a8380c" fill-opacity="0.45" stroke="#a8380c" stroke-width="2.2"/>
<circle cx="241.23" cy="994.23" r="2.05" fill="#a8380c" fill-opacity="0.45" stroke="#a8380c" stroke-width="2.2"/>
<circle cx="243.81" cy="995.26" r="2.05" fill="#a8380c" fill-opacity="0.45" stroke="#a8380c" stroke-width="2.2"/>
<circle cx="246.38" cy="1002.27" r="2.05" fill="#a8380c" fill-opacity="0.45" stroke="#a8380c" stroke-width="2.2"/>
<circle cx="248.96" cy="990.61" r="2.05" fill="#a8380c" fill-opacity="0.45" stroke="#a8380c" stroke-width="2.2"/>
<circle cx="251.53" cy="991.13" r="2.05" fill="#a8380c" fill-opacity="0.45" stroke="#a8380c" stroke-width="2.2"/>
<circle cx="254.10" cy="996.88" r="2.05" fill="#a8380c" fill-opacity="0.45" stroke="#a8380c" stroke-width="2.2"/>
<circle cx="256.68" cy="996.88" r="2.05" fill="#a8380c" fill-opacity="0.45" stroke="#a8380c" stroke-width="2.2"/>
<circle cx="259.25" cy="1032.98" r="2.05" fill="#a8380c" fill-opacity="0.45" stroke="#a8380c" stroke-width="2.2"/>
<circle cx="261.83" cy="1028.78" r="2.05" fill="#a8380c" fill-opacity="0.45" stroke="#a8380c" stroke-width="2.2"/>
<circle cx="264.40" cy="1021.85" r="2.05" fill="#a8380c" fill-opacity="0.45" stroke="#a8380c" stroke-width="2.2"/>
<circle cx="266.98" cy="1018.28" r="2.05" fill="#a8380c" fill-opacity="0.45" stroke="#a8380c" stroke-width="2.2"/>
<circle cx="269.55" cy="1013.71" r="2.05" fill="#a8380c" fill-opacity="0.45" stroke="#a8380c" stroke-width="2.2"/>
<circle cx="272.12" cy="994.23" r="2.05" fill="#a8380c" fill-opacity="0.45" stroke="#a8380c" stroke-width="2.2"/>
<circle cx="274.70" cy="1030.47" r="2.05" fill="#a8380c" fill-opacity="0.45" stroke="#a8380c" stroke-width="2.2"/>
<circle cx="277.27" cy="1026.21" r="2.05" fill="#a8380c" fill-opacity="0.45" stroke="#a8380c" stroke-width="2.2"/>
<circle cx="279.85" cy="1020.07" r="2.05" fill="#a8380c" fill-opacity="0.45" stroke="#a8380c" stroke-width="2.2"/>
<circle cx="282.42" cy="1016.46" r="2.05" fill="#a8380c" fill-opacity="0.45" stroke="#a8380c" stroke-width="2.2"/>
<circle cx="285.00" cy="1012.32" r="2.05" fill="#a8380c" fill-opacity="0.45" stroke="#a8380c" stroke-width="2.2"/>
<circle cx="287.57" cy="1012.32" r="2.05" fill="#a8380c" fill-opacity="0.45" stroke="#a8380c" stroke-width="2.2"/>
<circle cx="290.14" cy="1012.32" r="2.05" fill="#a8380c" fill-opacity="0.45" stroke="#a8380c" stroke-width="2.2"/>
<circle cx="292.72" cy="1005.20" r="2.05" fill="#a8380c" fill-opacity="0.45" stroke="#a8380c" stroke-width="2.2"/>
<circle cx="295.29" cy="1004.71" r="2.05" fill="#a8380c" fill-opacity="0.45" stroke="#a8380c" stroke-width="2.2"/>
<circle cx="297.87" cy="1032.98" r="2.05" fill="#a8380c" fill-opacity="0.45" stroke="#a8380c" stroke-width="2.2"/>
<circle cx="300.44" cy="1027.93" r="2.05" fill="#a8380c" fill-opacity="0.45" stroke="#a8380c" stroke-width="2.2"/>
<circle cx="303.02" cy="1020.07" r="2.05" fill="#a8380c" fill-opacity="0.45" stroke="#a8380c" stroke-width="2.2"/>
<circle cx="305.59" cy="1017.37" r="2.05" fill="#a8380c" fill-opacity="0.45" stroke="#a8380c" stroke-width="2.2"/>
<circle cx="308.16" cy="1012.78" r="2.05" fill="#a8380c" fill-opacity="0.45" stroke="#a8380c" stroke-width="2.2"/>
<circle cx="310.74" cy="1012.78" r="2.05" fill="#a8380c" fill-opacity="0.45" stroke="#a8380c" stroke-width="2.2"/>
<circle cx="313.31" cy="1012.78" r="2.05" fill="#a8380c" fill-opacity="0.45" stroke="#a8380c" stroke-width="2.2"/>
<circle cx="315.89" cy="1006.16" r="2.05" fill="#a8380c" fill-opacity="0.45" stroke="#a8380c" stroke-width="2.2"/>
<circle cx="318.46" cy="1005.20" r="2.05" fill="#a8380c" fill-opacity="0.45" stroke="#a8380c" stroke-width="2.2"/>
<circle cx="321.04" cy="1003.25" r="2.05" fill="#a8380c" fill-opacity="0.45" stroke="#a8380c" stroke-width="2.2"/>
<circle cx="323.61" cy="1002.27" r="2.05" fill="#a8380c" fill-opacity="0.45" stroke="#a8380c" stroke-width="2.2"/>
<circle cx="326.18" cy="994.23" r="2.05" fill="#a8380c" fill-opacity="0.45" stroke="#a8380c" stroke-width="2.2"/>
<circle cx="328.76" cy="994.23" r="2.05" fill="#a8380c" fill-opacity="0.45" stroke="#a8380c" stroke-width="2.2"/>
<circle cx="331.33" cy="1032.73" r="2.05" fill="#a8380c" fill-opacity="0.45" stroke="#a8380c" stroke-width="2.2"/>
<circle cx="333.91" cy="1027.93" r="2.05" fill="#a8380c" fill-opacity="0.45" stroke="#a8380c" stroke-width="2.2"/>
<circle cx="336.48" cy="1020.69" r="2.05" fill="#a8380c" fill-opacity="0.45" stroke="#a8380c" stroke-width="2.2"/>
<circle cx="339.06" cy="1017.37" r="2.05" fill="#a8380c" fill-opacity="0.45" stroke="#a8380c" stroke-width="2.2"/>
<circle cx="341.63" cy="1012.78" r="2.05" fill="#a8380c" fill-opacity="0.45" stroke="#a8380c" stroke-width="2.2"/>
<circle cx="344.20" cy="1012.78" r="2.05" fill="#a8380c" fill-opacity="0.45" stroke="#a8380c" stroke-width="2.2"/>
<circle cx="346.78" cy="1012.78" r="2.05" fill="#a8380c" fill-opacity="0.45" stroke="#a8380c" stroke-width="2.2"/>
<circle cx="349.35" cy="1006.16" r="2.05" fill="#a8380c" fill-opacity="0.45" stroke="#a8380c" stroke-width="2.2"/>
<circle cx="351.93" cy="1005.20" r="2.05" fill="#a8380c" fill-opacity="0.45" stroke="#a8380c" stroke-width="2.2"/>
<circle cx="354.50" cy="1003.25" r="2.05" fill="#a8380c" fill-opacity="0.45" stroke="#a8380c" stroke-width="2.2"/>
<circle cx="357.08" cy="1002.27" r="2.05" fill="#a8380c" fill-opacity="0.45" stroke="#a8380c" stroke-width="2.2"/>
<circle cx="359.65" cy="994.03" r="2.05" fill="#a8380c" fill-opacity="0.45" stroke="#a8380c" stroke-width="2.2"/>
<circle cx="362.22" cy="1032.73" r="2.05" fill="#a8380c" fill-opacity="0.45" stroke="#a8380c" stroke-width="2.2"/>
<circle cx="364.80" cy="1027.93" r="2.05" fill="#a8380c" fill-opacity="0.45" stroke="#a8380c" stroke-width="2.2"/>
<circle cx="367.37" cy="1020.07" r="2.05" fill="#a8380c" fill-opacity="0.45" stroke="#a8380c" stroke-width="2.2"/>
<circle cx="369.95" cy="1017.37" r="2.05" fill="#a8380c" fill-opacity="0.45" stroke="#a8380c" stroke-width="2.2"/>
<circle cx="372.52" cy="1012.78" r="2.05" fill="#a8380c" fill-opacity="0.45" stroke="#a8380c" stroke-width="2.2"/>
<circle cx="375.10" cy="1012.78" r="2.05" fill="#a8380c" fill-opacity="0.45" stroke="#a8380c" stroke-width="2.2"/>
<circle cx="377.67" cy="1012.78" r="2.05" fill="#a8380c" fill-opacity="0.45" stroke="#a8380c" stroke-width="2.2"/>
<circle cx="380.24" cy="1006.16" r="2.05" fill="#a8380c" fill-opacity="0.45" stroke="#a8380c" stroke-width="2.2"/>
<circle cx="382.82" cy="1005.20" r="2.05" fill="#a8380c" fill-opacity="0.45" stroke="#a8380c" stroke-width="2.2"/>
<circle cx="385.39" cy="1003.25" r="2.05" fill="#a8380c" fill-opacity="0.45" stroke="#a8380c" stroke-width="2.2"/>
<circle cx="387.97" cy="1002.27" r="2.05" fill="#a8380c" fill-opacity="0.45" stroke="#a8380c" stroke-width="2.2"/>
<circle cx="390.54" cy="994.03" r="2.05" fill="#a8380c" fill-opacity="0.45" stroke="#a8380c" stroke-width="2.2"/>
<circle cx="393.12" cy="919.51" r="2.05" fill="#a8380c" fill-opacity="0.45" stroke="#a8380c" stroke-width="2.2"/>
<circle cx="395.69" cy="922.41" r="2.05" fill="#a8380c" fill-opacity="0.45" stroke="#a8380c" stroke-width="2.2"/>
<circle cx="398.26" cy="916.56" r="2.05" fill="#a8380c" fill-opacity="0.45" stroke="#a8380c" stroke-width="2.2"/>
<circle cx="400.84" cy="918.04" r="2.05" fill="#a8380c" fill-opacity="0.45" stroke="#a8380c" stroke-width="2.2"/>
<circle cx="403.41" cy="1069.08" r="2.05" fill="#a8380c" fill-opacity="0.45" stroke="#a8380c" stroke-width="2.2"/>
<circle cx="405.99" cy="1069.08" r="2.05" fill="#a8380c" fill-opacity="0.45" stroke="#a8380c" stroke-width="2.2"/>
<circle cx="408.56" cy="1069.08" r="2.05" fill="#a8380c" fill-opacity="0.45" stroke="#a8380c" stroke-width="2.2"/>
<circle cx="411.14" cy="1069.08" r="2.05" fill="#a8380c" fill-opacity="0.45" stroke="#a8380c" stroke-width="2.2"/>
<circle cx="413.71" cy="1069.08" r="2.05" fill="#a8380c" fill-opacity="0.45" stroke="#a8380c" stroke-width="2.2"/>
<circle cx="416.28" cy="1069.08" r="2.05" fill="#a8380c" fill-opacity="0.45" stroke="#a8380c" stroke-width="2.2"/>
<circle cx="418.86" cy="1066.67" r="2.05" fill="#a8380c" fill-opacity="0.45" stroke="#a8380c" stroke-width="2.2"/>
<circle cx="421.43" cy="1066.67" r="2.05" fill="#a8380c" fill-opacity="0.45" stroke="#a8380c" stroke-width="2.2"/>
<circle cx="424.01" cy="1066.67" r="2.05" fill="#a8380c" fill-opacity="0.45" stroke="#a8380c" stroke-width="2.2"/>
<circle cx="426.58" cy="1066.67" r="2.05" fill="#a8380c" fill-opacity="0.45" stroke="#a8380c" stroke-width="2.2"/>
<circle cx="429.16" cy="1066.67" r="2.05" fill="#a8380c" fill-opacity="0.45" stroke="#a8380c" stroke-width="2.2"/>
<circle cx="431.73" cy="1066.67" r="2.05" fill="#a8380c" fill-opacity="0.45" stroke="#a8380c" stroke-width="2.2"/>
<circle cx="434.31" cy="1060.47" r="2.05" fill="#a8380c" fill-opacity="0.45" stroke="#a8380c" stroke-width="2.2"/>
<circle cx="436.88" cy="1060.47" r="2.05" fill="#a8380c" fill-opacity="0.45" stroke="#a8380c" stroke-width="2.2"/>
<circle cx="439.45" cy="1052.54" r="2.05" fill="#a8380c" fill-opacity="0.45" stroke="#a8380c" stroke-width="2.2"/>
<circle cx="442.03" cy="1052.54" r="2.05" fill="#a8380c" fill-opacity="0.45" stroke="#a8380c" stroke-width="2.2"/>
<circle cx="444.60" cy="1052.54" r="2.05" fill="#a8380c" fill-opacity="0.45" stroke="#a8380c" stroke-width="2.2"/>
<circle cx="447.18" cy="1052.54" r="2.05" fill="#a8380c" fill-opacity="0.45" stroke="#a8380c" stroke-width="2.2"/>
<circle cx="449.75" cy="1052.54" r="2.05" fill="#a8380c" fill-opacity="0.45" stroke="#a8380c" stroke-width="2.2"/>
<circle cx="452.33" cy="1052.54" r="2.05" fill="#a8380c" fill-opacity="0.45" stroke="#a8380c" stroke-width="2.2"/>
<circle cx="454.90" cy="1069.35" r="2.05" fill="#a8380c" fill-opacity="0.45" stroke="#a8380c" stroke-width="2.2"/>
<circle cx="457.47" cy="1069.35" r="2.05" fill="#a8380c" fill-opacity="0.45" stroke="#a8380c" stroke-width="2.2"/>
<circle cx="460.05" cy="1069.35" r="2.05" fill="#a8380c" fill-opacity="0.45" stroke="#a8380c" stroke-width="2.2"/>
<circle cx="462.62" cy="1066.40" r="2.05" fill="#a8380c" fill-opacity="0.45" stroke="#a8380c" stroke-width="2.2"/>
<circle cx="465.20" cy="1066.40" r="2.05" fill="#a8380c" fill-opacity="0.45" stroke="#a8380c" stroke-width="2.2"/>
<circle cx="467.77" cy="1066.40" r="2.05" fill="#a8380c" fill-opacity="0.45" stroke="#a8380c" stroke-width="2.2"/>
<circle cx="470.35" cy="1060.96" r="2.05" fill="#a8380c" fill-opacity="0.45" stroke="#a8380c" stroke-width="2.2"/>
<circle cx="472.92" cy="1052.02" r="2.05" fill="#a8380c" fill-opacity="0.45" stroke="#a8380c" stroke-width="2.2"/>
<circle cx="475.49" cy="1052.02" r="2.05" fill="#a8380c" fill-opacity="0.45" stroke="#a8380c" stroke-width="2.2"/>
<circle cx="478.07" cy="1052.02" r="2.05" fill="#a8380c" fill-opacity="0.45" stroke="#a8380c" stroke-width="2.2"/>
<circle cx="480.64" cy="995.97" r="2.05" fill="#a8380c" fill-opacity="0.45" stroke="#a8380c" stroke-width="2.2"/>
<circle cx="483.22" cy="995.97" r="2.05" fill="#a8380c" fill-opacity="0.45" stroke="#a8380c" stroke-width="2.2"/>
<circle cx="485.79" cy="985.31" r="2.05" fill="#a8380c" fill-opacity="0.45" stroke="#a8380c" stroke-width="2.2"/>
<circle cx="488.37" cy="985.31" r="2.05" fill="#a8380c" fill-opacity="0.45" stroke="#a8380c" stroke-width="2.2"/>
<circle cx="490.94" cy="1069.68" r="2.05" fill="#a8380c" fill-opacity="0.45" stroke="#a8380c" stroke-width="2.2"/>
<circle cx="493.51" cy="1069.68" r="2.05" fill="#a8380c" fill-opacity="0.45" stroke="#a8380c" stroke-width="2.2"/>
<circle cx="496.09" cy="1069.68" r="2.05" fill="#a8380c" fill-opacity="0.45" stroke="#a8380c" stroke-width="2.2"/>
<circle cx="498.66" cy="1060.47" r="2.05" fill="#a8380c" fill-opacity="0.45" stroke="#a8380c" stroke-width="2.2"/>
<circle cx="501.24" cy="1060.47" r="2.05" fill="#a8380c" fill-opacity="0.45" stroke="#a8380c" stroke-width="2.2"/>
<circle cx="503.81" cy="1060.47" r="2.05" fill="#a8380c" fill-opacity="0.45" stroke="#a8380c" stroke-width="2.2"/>
<circle cx="506.39" cy="1069.68" r="2.05" fill="#a8380c" fill-opacity="0.45" stroke="#a8380c" stroke-width="2.2"/>
<circle cx="508.96" cy="1069.68" r="2.05" fill="#a8380c" fill-opacity="0.45" stroke="#a8380c" stroke-width="2.2"/>
<circle cx="511.53" cy="1069.68" r="2.05" fill="#a8380c" fill-opacity="0.45" stroke="#a8380c" stroke-width="2.2"/>
<circle cx="514.11" cy="1060.47" r="2.05" fill="#a8380c" fill-opacity="0.45" stroke="#a8380c" stroke-width="2.2"/>
<circle cx="516.68" cy="1060.47" r="2.05" fill="#a8380c" fill-opacity="0.45" stroke="#a8380c" stroke-width="2.2"/>
<circle cx="519.26" cy="1060.47" r="2.05" fill="#a8380c" fill-opacity="0.45" stroke="#a8380c" stroke-width="2.2"/>
<circle cx="521.83" cy="834.56" r="2.05" fill="#a8380c" fill-opacity="0.45" stroke="#a8380c" stroke-width="2.2"/>
<text x="314.60" y="1139.80" font-family='"Liberation Sans", sans-serif' font-size="19.65" font-weight="bold" text-anchor="middle" fill="#262626" >Turbofan engines (TFE)</text>
<text x="45.10" y="946.15" font-family='"Liberation Sans", sans-serif' font-size="19.65" font-weight="bold" text-anchor="middle" fill="#262626" transform="rotate(-90 45.10 946.15)" >Environmental effect factor</text>
<text x="1.90" y="960.50" font-family='"Liberation Serif", serif' font-size="22.5" font-weight="bold" text-anchor="start" fill="#000" >c)</text>
<rect x="602.10" y="5.00" width="140.05" height="303.40" fill="none" stroke="#959595" stroke-width="1.4"/>
<line x1="672.12" y1="308.40" x2="672.12" y2="303.90" stroke="#7a7a7a" stroke-width="1.0" />
<line x1="672.12" y1="5.00" x2="672.12" y2="9.50" stroke="#7a7a7a" stroke-width="1.0" />
<line x1="602.10" y1="247.09" x2="606.60" y2="247.09" stroke="#7a7a7a" stroke-width="1.0" />
<line x1="742.15" y1="247.09" x2="737.65" y2="247.09" stroke="#7a7a7a" stroke-width="1.0" />
<text x="596.20" y="253.09" font-family='"Liberation Sans", sans-serif' font-size="15.5" font-weight="bold" text-anchor="end" fill="#262626" >30</text>
<line x1="602.10" y1="178.35" x2="606.60" y2="178.35" stroke="#7a7a7a" stroke-width="1.0" />
<line x1="742.15" y1="178.35" x2="737.65" y2="178.35" stroke="#7a7a7a" stroke-width="1.0" />
<text x="596.20" y="184.35" font-family='"Liberation Sans", sans-serif' font-size="15.5" font-weight="bold" text-anchor="end" fill="#262626" >35</text>
<line x1="602.10" y1="109.62" x2="606.60" y2="109.62" stroke="#7a7a7a" stroke-width="1.0" />
<line x1="742.15" y1="109.62" x2="737.65" y2="109.62" stroke="#7a7a7a" stroke-width="1.0" />
<text x="596.20" y="115.62" font-family='"Liberation Sans", sans-serif' font-size="15.5" font-weight="bold" text-anchor="end" fill="#262626" >40</text>
<line x1="602.10" y1="40.88" x2="606.60" y2="40.88" stroke="#7a7a7a" stroke-width="1.0" />
<line x1="742.15" y1="40.88" x2="737.65" y2="40.88" stroke="#7a7a7a" stroke-width="1.0" />
<text x="596.20" y="46.88" font-family='"Liberation Sans", sans-serif' font-size="15.5" font-weight="bold" text-anchor="end" fill="#262626" >45</text>
<text x="672.12" y="330.00" font-family='"Liberation Sans", sans-serif' font-size="15.5" font-weight="bold" text-anchor="middle" fill="#262626" >TFE</text>
<text x="571.90" y="156.70" font-family='"Liberation Sans", sans-serif' font-size="16.8" font-weight="bold" text-anchor="middle" fill="#262626" transform="rotate(-90 571.90 156.70)" >Exergy efficiency (%)</text>
<line x1="672.55" y1="55.59" x2="672.55" y2="18.88" stroke="#333" stroke-width="1.4" stroke-dasharray="1.8 3.2"/>
<line x1="672.55" y1="141.65" x2="672.55" y2="251.76" stroke="#333" stroke-width="1.4" stroke-dasharray="1.8 3.2"/>
<line x1="667.45" y1="18.88" x2="677.65" y2="18.88" stroke="#222" stroke-width="1.2" />
<line x1="667.45" y1="251.76" x2="677.65" y2="251.76" stroke="#222" stroke-width="1.2" />
<rect x="661.60" y="55.59" width="21.90" height="86.06" fill="none" stroke="#5050ff" stroke-width="1.1"/>
<line x1="661.60" y1="118.83" x2="683.50" y2="118.83" stroke="#ff4040" stroke-width="1.1" />
<line x1="669.05" y1="295.20" x2="676.05" y2="295.20" stroke="#ff0000" stroke-width="1.1" />
<line x1="672.55" y1="291.70" x2="672.55" y2="298.70" stroke="#ff0000" stroke-width="1.1" />
<rect x="581.00" y="405.20" width="158.80" height="300.80" fill="none" stroke="#959595" stroke-width="1.4"/>
<line x1="660.40" y1="706.00" x2="660.40" y2="701.50" stroke="#7a7a7a" stroke-width="1.0" />
<line x1="660.40" y1="405.20" x2="660.40" y2="409.70" stroke="#7a7a7a" stroke-width="1.0" />
<line x1="581.00" y1="670.16" x2="585.50" y2="670.16" stroke="#7a7a7a" stroke-width="1.0" />
<line x1="739.80" y1="670.16" x2="735.30" y2="670.16" stroke="#7a7a7a" stroke-width="1.0" />
<text x="575.80" y="676.16" font-family='"Liberation Sans", sans-serif' font-size="15.5" font-weight="bold" text-anchor="end" fill="#262626" >55</text>
<line x1="581.00" y1="602.03" x2="585.50" y2="602.03" stroke="#7a7a7a" stroke-width="1.0" />
<line x1="739.80" y1="602.03" x2="735.30" y2="602.03" stroke="#7a7a7a" stroke-width="1.0" />
<text x="575.80" y="608.03" font-family='"Liberation Sans", sans-serif' font-size="15.5" font-weight="bold" text-anchor="end" fill="#262626" >60</text>
<line x1="581.00" y1="533.90" x2="585.50" y2="533.90" stroke="#7a7a7a" stroke-width="1.0" />
<line x1="739.80" y1="533.90" x2="735.30" y2="533.90" stroke="#7a7a7a" stroke-width="1.0" />
<text x="575.80" y="539.90" font-family='"Liberation Sans", sans-serif' font-size="15.5" font-weight="bold" text-anchor="end" fill="#262626" >65</text>
<line x1="581.00" y1="465.77" x2="585.50" y2="465.77" stroke="#7a7a7a" stroke-width="1.0" />
<line x1="739.80" y1="465.77" x2="735.30" y2="465.77" stroke="#7a7a7a" stroke-width="1.0" />
<text x="575.80" y="471.77" font-family='"Liberation Sans", sans-serif' font-size="15.5" font-weight="bold" text-anchor="end" fill="#262626" >70</text>
<text x="660.40" y="727.60" font-family='"Liberation Sans", sans-serif' font-size="15.5" font-weight="bold" text-anchor="middle" fill="#262626" >TFE</text>
<text x="550.90" y="555.25" font-family='"Liberation Sans", sans-serif' font-size="16.8" font-weight="bold" text-anchor="middle" fill="#262626" transform="rotate(-90 550.90 555.25)" >Wasted exergy ratio (%)</text>
<line x1="660.55" y1="570.69" x2="660.55" y2="461.68" stroke="#333" stroke-width="1.4" stroke-dasharray="1.8 3.2"/>
<line x1="660.55" y1="655.17" x2="660.55" y2="691.96" stroke="#333" stroke-width="1.4" stroke-dasharray="1.8 3.2"/>
<line x1="655.45" y1="461.68" x2="665.65" y2="461.68" stroke="#222" stroke-width="1.2" />
<line x1="655.45" y1="691.96" x2="665.65" y2="691.96" stroke="#222" stroke-width="1.2" />
<rect x="648.30" y="570.69" width="24.50" height="84.48" fill="none" stroke="#5050ff" stroke-width="1.1"/>
<line x1="648.30" y1="593.58" x2="672.80" y2="593.58" stroke="#ff4040" stroke-width="1.1" />
<line x1="657.05" y1="418.76" x2="664.05" y2="418.76" stroke="#ff0000" stroke-width="1.1" />
<line x1="660.55" y1="415.26" x2="660.55" y2="422.26" stroke="#ff0000" stroke-width="1.1" />
<rect x="603.60" y="800.90" width="142.55" height="305.70" fill="none" stroke="#959595" stroke-width="1.4"/>
<line x1="674.88" y1="1106.60" x2="674.88" y2="1102.10" stroke="#7a7a7a" stroke-width="1.0" />
<line x1="674.88" y1="800.90" x2="674.88" y2="805.40" stroke="#7a7a7a" stroke-width="1.0" />
<line x1="603.60" y1="1083.80" x2="608.10" y2="1083.80" stroke="#7a7a7a" stroke-width="1.0" />
<line x1="746.15" y1="1083.80" x2="741.65" y2="1083.80" stroke="#7a7a7a" stroke-width="1.0" />
<text x="597.70" y="1090.10" font-family='"Liberation Sans", sans-serif' font-size="15.5" font-weight="bold" text-anchor="end" fill="#262626" >1.2</text>
<line x1="603.60" y1="1049.51" x2="608.10" y2="1049.51" stroke="#7a7a7a" stroke-width="1.0" />
<line x1="746.15" y1="1049.51" x2="741.65" y2="1049.51" stroke="#7a7a7a" stroke-width="1.0" />
<text x="597.70" y="1055.81" font-family='"Liberation Sans", sans-serif' font-size="15.5" font-weight="bold" text-anchor="end" fill="#262626" >1.4</text>
<line x1="603.60" y1="1015.22" x2="608.10" y2="1015.22" stroke="#7a7a7a" stroke-width="1.0" />
<line x1="746.15" y1="1015.22" x2="741.65" y2="1015.22" stroke="#7a7a7a" stroke-width="1.0" />
<text x="597.70" y="1021.52" font-family='"Liberation Sans", sans-serif' font-size="15.5" font-weight="bold" text-anchor="end" fill="#262626" >1.6</text>
<line x1="603.60" y1="980.93" x2="608.10" y2="980.93" stroke="#7a7a7a" stroke-width="1.0" />
<line x1="746.15" y1="980.93" x2="741.65" y2="980.93" stroke="#7a7a7a" stroke-width="1.0" />
<text x="597.70" y="987.23" font-family='"Liberation Sans", sans-serif' font-size="15.5" font-weight="bold" text-anchor="end" fill="#262626" >1.8</text>
<line x1="603.60" y1="946.63" x2="608.10" y2="946.63" stroke="#7a7a7a" stroke-width="1.0" />
<line x1="746.15" y1="946.63" x2="741.65" y2="946.63" stroke="#7a7a7a" stroke-width="1.0" />
<text x="597.70" y="952.93" font-family='"Liberation Sans", sans-serif' font-size="15.5" font-weight="bold" text-anchor="end" fill="#262626" >2</text>
<line x1="603.60" y1="912.34" x2="608.10" y2="912.34" stroke="#7a7a7a" stroke-width="1.0" />
<line x1="746.15" y1="912.34" x2="741.65" y2="912.34" stroke="#7a7a7a" stroke-width="1.0" />
<text x="597.70" y="918.64" font-family='"Liberation Sans", sans-serif' font-size="15.5" font-weight="bold" text-anchor="end" fill="#262626" >2.2</text>
<line x1="603.60" y1="878.05" x2="608.10" y2="878.05" stroke="#7a7a7a" stroke-width="1.0" />
<line x1="746.15" y1="878.05" x2="741.65" y2="878.05" stroke="#7a7a7a" stroke-width="1.0" />
<text x="597.70" y="884.35" font-family='"Liberation Sans", sans-serif' font-size="15.5" font-weight="bold" text-anchor="end" fill="#262626" >2.4</text>
<line x1="603.60" y1="843.76" x2="608.10" y2="843.76" stroke="#7a7a7a" stroke-width="1.0" />
<line x1="746.15" y1="843.76" x2="741.65" y2="843.76" stroke="#7a7a7a" stroke-width="1.0" />
<text x="597.70" y="850.06" font-family='"Liberation Sans", sans-serif' font-size="15.5" font-weight="bold" text-anchor="end" fill="#262626" >2.6</text>
<line x1="603.60" y1="809.47" x2="608.10" y2="809.47" stroke="#7a7a7a" stroke-width="1.0" />
<line x1="746.15" y1="809.47" x2="741.65" y2="809.47" stroke="#7a7a7a" stroke-width="1.0" />
<text x="597.70" y="815.77" font-family='"Liberation Sans", sans-serif' font-size="15.5" font-weight="bold" text-anchor="end" fill="#262626" >2.8</text>
<text x="674.88" y="1128.20" font-family='"Liberation Sans", sans-serif' font-size="15.5" font-weight="bold" text-anchor="middle" fill="#262626" >TFE</text>
<text x="568.50" y="954.00" font-family='"Liberation Sans", sans-serif' font-size="16.8" font-weight="bold" text-anchor="middle" fill="#262626" transform="rotate(-90 568.50 954.00)" >Environmental effect factor</text>
<line x1="675.25" y1="1004.93" x2="675.25" y2="912.34" stroke="#333" stroke-width="1.4" stroke-dasharray="1.8 3.2"/>
<line x1="675.25" y1="1070.42" x2="675.25" y2="1093.40" stroke="#333" stroke-width="1.4" stroke-dasharray="1.8 3.2"/>
<line x1="670.15" y1="912.34" x2="680.35" y2="912.34" stroke="#222" stroke-width="1.2" />
<line x1="670.15" y1="1093.40" x2="680.35" y2="1093.40" stroke="#222" stroke-width="1.2" />
<rect x="664.50" y="1004.93" width="21.50" height="65.49" fill="none" stroke="#5050ff" stroke-width="1.1"/>
<line x1="664.50" y1="1024.65" x2="686.00" y2="1024.65" stroke="#ff4040" stroke-width="1.1" />
<line x1="671.75" y1="814.62" x2="678.75" y2="814.62" stroke="#ff0000" stroke-width="1.1" />
<line x1="675.25" y1="811.12" x2="675.25" y2="818.12" stroke="#ff0000" stroke-width="1.1" />
<line x1="671.75" y1="883.20" x2="678.75" y2="883.20" stroke="#ff0000" stroke-width="1.1" />
<line x1="675.25" y1="879.70" x2="675.25" y2="886.70" stroke="#ff0000" stroke-width="1.1" />
<line x1="671.75" y1="890.06" x2="678.75" y2="890.06" stroke="#ff0000" stroke-width="1.1" />
<line x1="675.25" y1="886.56" x2="675.25" y2="893.56" stroke="#ff0000" stroke-width="1.1" />
<line x1="671.75" y1="896.91" x2="678.75" y2="896.91" stroke="#ff0000" stroke-width="1.1" />
<line x1="675.25" y1="893.41" x2="675.25" y2="900.41" stroke="#ff0000" stroke-width="1.1" />
<line x1="671.75" y1="902.06" x2="678.75" y2="902.06" stroke="#ff0000" stroke-width="1.1" />
<line x1="675.25" y1="898.56" x2="675.25" y2="905.56" stroke="#ff0000" stroke-width="1.1" />
<line x1="671.75" y1="907.20" x2="678.75" y2="907.20" stroke="#ff0000" stroke-width="1.1" />
<line x1="675.25" y1="903.70" x2="675.25" y2="910.70" stroke="#ff0000" stroke-width="1.1" />
</svg>
</body></html>
